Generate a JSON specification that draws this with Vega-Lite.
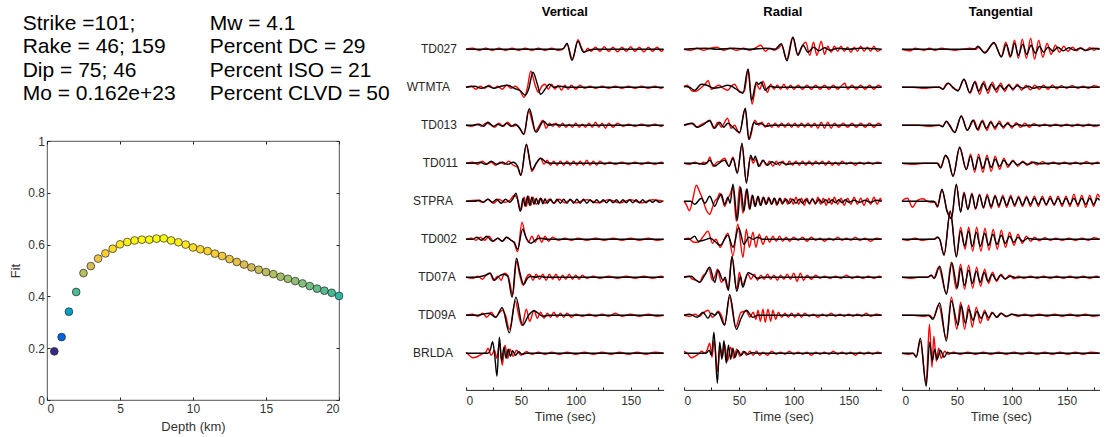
{
"$schema":"https://vega.github.io/schema/vega-lite/v6.json",
"padding":{"left":9,"top":5.5,"right":0,"bottom":0},
"background":"white",
"config":{"font":"Liberation Sans","view":{"stroke":null},"axis":{"grid":false}},
"datasets":{
"txt":[{"c":0,"l":0,"x":"Strike =101;"},{"c":0,"l":1,"x":"Rake = 46; 159"},{"c":0,"l":2,"x":"Dip = 75; 46"},{"c":0,"l":3,"x":"Mo = 0.162e+23"},{"c":1,"l":0,"x":"Mw = 4.1"},{"c":1,"l":1,"x":"Percent DC = 29"},{"c":1,"l":2,"x":"Percent ISO = 21"},{"c":1,"l":3,"x":"Percent CLVD = 50"}],
"fit":[{"d":0.5,"f":0.188},{"d":1,"f":0.243},{"d":1.5,"f":0.341},{"d":2,"f":0.417},{"d":2.5,"f":0.49},{"d":3,"f":0.517},{"d":3.5,"f":0.546},{"d":4,"f":0.566},{"d":4.5,"f":0.584},{"d":5,"f":0.601},{"d":5.5,"f":0.61},{"d":6,"f":0.616},{"d":6.5,"f":0.619},{"d":7,"f":0.619},{"d":7.5,"f":0.623},{"d":8,"f":0.624},{"d":8.5,"f":0.616},{"d":9,"f":0.609},{"d":9.5,"f":0.6},{"d":10,"f":0.589},{"d":10.5,"f":0.582},{"d":11,"f":0.575},{"d":11.5,"f":0.565},{"d":12,"f":0.556},{"d":12.5,"f":0.544},{"d":13,"f":0.533},{"d":13.5,"f":0.523},{"d":14,"f":0.512},{"d":14.5,"f":0.503},{"d":15,"f":0.494},{"d":15.5,"f":0.486},{"d":16,"f":0.476},{"d":16.5,"f":0.468},{"d":17,"f":0.459},{"d":17.5,"f":0.45},{"d":18,"f":0.44},{"d":18.5,"f":0.43},{"d":19,"f":0.422},{"d":19.5,"f":0.414},{"d":20,"f":0.402}],
"w":[
{"p":0,"s":0,"k":0,"t":0,"a":0},{"p":0,"s":0,"k":0,"t":6,"a":1},{"p":0,"s":0,"k":0,"t":12,"a":-1},{"p":0,"s":0,"k":0,"t":18,"a":1},{"p":0,"s":0,"k":0,"t":24,"a":-1},{"p":0,"s":0,"k":0,"t":30,"a":1},{"p":0,"s":0,"k":0,"t":36,"a":-1},{"p":0,"s":0,"k":0,"t":42,"a":1},{"p":0,"s":0,"k":0,"t":48,"a":-1},{"p":0,"s":0,"k":0,"t":54,"a":1},{"p":0,"s":0,"k":0,"t":60,"a":-1},{"p":0,"s":0,"k":0,"t":66,"a":1},{"p":0,"s":0,"k":0,"t":72,"a":-1},{"p":0,"s":0,"k":0,"t":78,"a":1},{"p":0,"s":0,"k":0,"t":84,"a":-1},{"p":0,"s":0,"k":0,"t":88,"a":0},{"p":0,"s":0,"k":0,"t":92,"a":5},{"p":0,"s":0,"k":0,"t":97,"a":-10},{"p":0,"s":0,"k":0,"t":102,"a":9.5},{"p":0,"s":0,"k":0,"t":105,"a":2},{"p":0,"s":0,"k":0,"t":108,"a":-3},{"p":0,"s":0,"k":0,"t":111,"a":1},{"p":0,"s":0,"k":0,"t":114,"a":-2},{"p":0,"s":0,"k":0,"t":118,"a":2},{"p":0,"s":0,"k":0,"t":122,"a":-2},{"p":0,"s":0,"k":0,"t":126,"a":2.5},{"p":0,"s":0,"k":0,"t":130,"a":-2},{"p":0,"s":0,"k":0,"t":134,"a":2},{"p":0,"s":0,"k":0,"t":138,"a":-2.5},{"p":0,"s":0,"k":0,"t":142,"a":2},{"p":0,"s":0,"k":0,"t":146,"a":-2},{"p":0,"s":0,"k":0,"t":150,"a":2.5},{"p":0,"s":0,"k":0,"t":154,"a":-2},{"p":0,"s":0,"k":0,"t":158,"a":2},{"p":0,"s":0,"k":0,"t":162,"a":-2.5},{"p":0,"s":0,"k":0,"t":166,"a":2},{"p":0,"s":0,"k":0,"t":170,"a":-2},{"p":0,"s":0,"k":0,"t":174,"a":2},{"p":0,"s":0,"k":0,"t":178,"a":-2},{"p":0,"s":0,"k":0,"t":180,"a":0},
{"p":0,"s":0,"k":1,"t":0,"a":0},{"p":0,"s":0,"k":1,"t":85,"a":0},{"p":0,"s":0,"k":1,"t":89,"a":1},{"p":0,"s":0,"k":1,"t":92,"a":6},{"p":0,"s":0,"k":1,"t":96.5,"a":-11},{"p":0,"s":0,"k":1,"t":102,"a":8},{"p":0,"s":0,"k":1,"t":107,"a":-3},{"p":0,"s":0,"k":1,"t":112,"a":-1},{"p":0,"s":0,"k":1,"t":116,"a":0},{"p":0,"s":0,"k":1,"t":180,"a":0},
{"p":0,"s":1,"k":0,"t":0,"a":0},{"p":0,"s":1,"k":0,"t":5,"a":1},{"p":0,"s":1,"k":0,"t":9,"a":-2},{"p":0,"s":1,"k":0,"t":13,"a":1},{"p":0,"s":1,"k":0,"t":17,"a":-1},{"p":0,"s":1,"k":0,"t":21,"a":2},{"p":0,"s":1,"k":0,"t":25,"a":-1},{"p":0,"s":1,"k":0,"t":29,"a":1},{"p":0,"s":1,"k":0,"t":33,"a":-2},{"p":0,"s":1,"k":0,"t":37,"a":2},{"p":0,"s":1,"k":0,"t":41,"a":-1},{"p":0,"s":1,"k":0,"t":45,"a":1},{"p":0,"s":1,"k":0,"t":49,"a":-3},{"p":0,"s":1,"k":0,"t":53,"a":-10},{"p":0,"s":1,"k":0,"t":56,"a":0},{"p":0,"s":1,"k":0,"t":59,"a":16},{"p":0,"s":1,"k":0,"t":63,"a":2},{"p":0,"s":1,"k":0,"t":66,"a":-5},{"p":0,"s":1,"k":0,"t":69,"a":1},{"p":0,"s":1,"k":0,"t":72,"a":3},{"p":0,"s":1,"k":0,"t":75,"a":-2},{"p":0,"s":1,"k":0,"t":78,"a":3},{"p":0,"s":1,"k":0,"t":81,"a":-2},{"p":0,"s":1,"k":0,"t":84,"a":2},{"p":0,"s":1,"k":0,"t":87,"a":-3},{"p":0,"s":1,"k":0,"t":90,"a":2},{"p":0,"s":1,"k":0,"t":93,"a":-2},{"p":0,"s":1,"k":0,"t":96,"a":2},{"p":0,"s":1,"k":0,"t":100,"a":-2},{"p":0,"s":1,"k":0,"t":104,"a":2},{"p":0,"s":1,"k":0,"t":108,"a":-1},{"p":0,"s":1,"k":0,"t":113,"a":1},{"p":0,"s":1,"k":0,"t":118,"a":-1},{"p":0,"s":1,"k":0,"t":124,"a":1},{"p":0,"s":1,"k":0,"t":130,"a":-1},{"p":0,"s":1,"k":0,"t":136,"a":1},{"p":0,"s":1,"k":0,"t":142,"a":-1},{"p":0,"s":1,"k":0,"t":148,"a":1},{"p":0,"s":1,"k":0,"t":154,"a":-1},{"p":0,"s":1,"k":0,"t":160,"a":1},{"p":0,"s":1,"k":0,"t":166,"a":-1},{"p":0,"s":1,"k":0,"t":172,"a":1},{"p":0,"s":1,"k":0,"t":178,"a":-1},{"p":0,"s":1,"k":0,"t":180,"a":0},
{"p":0,"s":1,"k":1,"t":0,"a":0},{"p":0,"s":1,"k":1,"t":8,"a":1},{"p":0,"s":1,"k":1,"t":14,"a":-1},{"p":0,"s":1,"k":1,"t":20,"a":1},{"p":0,"s":1,"k":1,"t":26,"a":-1},{"p":0,"s":1,"k":1,"t":32,"a":1},{"p":0,"s":1,"k":1,"t":38,"a":2},{"p":0,"s":1,"k":1,"t":44,"a":-1},{"p":0,"s":1,"k":1,"t":50,"a":-4},{"p":0,"s":1,"k":1,"t":54,"a":-8},{"p":0,"s":1,"k":1,"t":57,"a":-2},{"p":0,"s":1,"k":1,"t":61,"a":15},{"p":0,"s":1,"k":1,"t":65,"a":3},{"p":0,"s":1,"k":1,"t":68,"a":-7},{"p":0,"s":1,"k":1,"t":72,"a":-2},{"p":0,"s":1,"k":1,"t":76,"a":3},{"p":0,"s":1,"k":1,"t":80,"a":0},{"p":0,"s":1,"k":1,"t":86,"a":1},{"p":0,"s":1,"k":1,"t":92,"a":0},{"p":0,"s":1,"k":1,"t":180,"a":0},
{"p":0,"s":2,"k":0,"t":0,"a":0},{"p":0,"s":2,"k":0,"t":5,"a":-1},{"p":0,"s":2,"k":0,"t":10,"a":1},{"p":0,"s":2,"k":0,"t":14,"a":-1},{"p":0,"s":2,"k":0,"t":18,"a":2},{"p":0,"s":2,"k":0,"t":22,"a":1},{"p":0,"s":2,"k":0,"t":26,"a":-2},{"p":0,"s":2,"k":0,"t":30,"a":2},{"p":0,"s":2,"k":0,"t":34,"a":-1},{"p":0,"s":2,"k":0,"t":38,"a":3},{"p":0,"s":2,"k":0,"t":42,"a":-1},{"p":0,"s":2,"k":0,"t":46,"a":0},{"p":0,"s":2,"k":0,"t":50,"a":-5},{"p":0,"s":2,"k":0,"t":53,"a":-9},{"p":0,"s":2,"k":0,"t":57,"a":15},{"p":0,"s":2,"k":0,"t":60,"a":5},{"p":0,"s":2,"k":0,"t":63,"a":-6},{"p":0,"s":2,"k":0,"t":67,"a":0},{"p":0,"s":2,"k":0,"t":70,"a":5},{"p":0,"s":2,"k":0,"t":73,"a":-3},{"p":0,"s":2,"k":0,"t":76,"a":2},{"p":0,"s":2,"k":0,"t":79,"a":-1},{"p":0,"s":2,"k":0,"t":82,"a":2},{"p":0,"s":2,"k":0,"t":85,"a":-2},{"p":0,"s":2,"k":0,"t":88,"a":2},{"p":0,"s":2,"k":0,"t":91,"a":-2},{"p":0,"s":2,"k":0,"t":94,"a":1},{"p":0,"s":2,"k":0,"t":97,"a":-2},{"p":0,"s":2,"k":0,"t":100,"a":2},{"p":0,"s":2,"k":0,"t":103,"a":-2},{"p":0,"s":2,"k":0,"t":106,"a":1},{"p":0,"s":2,"k":0,"t":109,"a":-2},{"p":0,"s":2,"k":0,"t":112,"a":2},{"p":0,"s":2,"k":0,"t":115,"a":-2},{"p":0,"s":2,"k":0,"t":118,"a":3},{"p":0,"s":2,"k":0,"t":121,"a":-2},{"p":0,"s":2,"k":0,"t":124,"a":2},{"p":0,"s":2,"k":0,"t":127,"a":-3},{"p":0,"s":2,"k":0,"t":130,"a":2},{"p":0,"s":2,"k":0,"t":134,"a":-2},{"p":0,"s":2,"k":0,"t":138,"a":2},{"p":0,"s":2,"k":0,"t":143,"a":-1},{"p":0,"s":2,"k":0,"t":148,"a":1},{"p":0,"s":2,"k":0,"t":154,"a":-1},{"p":0,"s":2,"k":0,"t":160,"a":1},{"p":0,"s":2,"k":0,"t":166,"a":-1},{"p":0,"s":2,"k":0,"t":172,"a":1},{"p":0,"s":2,"k":0,"t":178,"a":-1},{"p":0,"s":2,"k":0,"t":180,"a":0},
{"p":0,"s":2,"k":1,"t":0,"a":0},{"p":0,"s":2,"k":1,"t":6,"a":0},{"p":0,"s":2,"k":1,"t":12,"a":1},{"p":0,"s":2,"k":1,"t":16,"a":-1},{"p":0,"s":2,"k":1,"t":20,"a":3},{"p":0,"s":2,"k":1,"t":25,"a":-1},{"p":0,"s":2,"k":1,"t":29,"a":1},{"p":0,"s":2,"k":1,"t":33,"a":-1},{"p":0,"s":2,"k":1,"t":37,"a":2},{"p":0,"s":2,"k":1,"t":41,"a":-1},{"p":0,"s":2,"k":1,"t":45,"a":1},{"p":0,"s":2,"k":1,"t":49,"a":-3},{"p":0,"s":2,"k":1,"t":52.5,"a":-9},{"p":0,"s":2,"k":1,"t":57.7,"a":16.5},{"p":0,"s":2,"k":1,"t":63.8,"a":-7},{"p":0,"s":2,"k":1,"t":70.7,"a":4},{"p":0,"s":2,"k":1,"t":75,"a":0},{"p":0,"s":2,"k":1,"t":80,"a":1},{"p":0,"s":2,"k":1,"t":86,"a":0},{"p":0,"s":2,"k":1,"t":180,"a":0},
{"p":0,"s":3,"k":0,"t":0,"a":0},{"p":0,"s":3,"k":0,"t":6,"a":1},{"p":0,"s":3,"k":0,"t":11,"a":-1},{"p":0,"s":3,"k":0,"t":15,"a":2},{"p":0,"s":3,"k":0,"t":19,"a":-1},{"p":0,"s":3,"k":0,"t":23,"a":1},{"p":0,"s":3,"k":0,"t":27,"a":-2},{"p":0,"s":3,"k":0,"t":31,"a":1},{"p":0,"s":3,"k":0,"t":35,"a":-1},{"p":0,"s":3,"k":0,"t":39,"a":2},{"p":0,"s":3,"k":0,"t":43,"a":-2},{"p":0,"s":3,"k":0,"t":47,"a":-4},{"p":0,"s":3,"k":0,"t":50,"a":-12},{"p":0,"s":3,"k":0,"t":55,"a":18},{"p":0,"s":3,"k":0,"t":58,"a":2},{"p":0,"s":3,"k":0,"t":60,"a":-8},{"p":0,"s":3,"k":0,"t":64,"a":0},{"p":0,"s":3,"k":0,"t":68,"a":5},{"p":0,"s":3,"k":0,"t":71,"a":-1},{"p":0,"s":3,"k":0,"t":74,"a":3},{"p":0,"s":3,"k":0,"t":77,"a":-2},{"p":0,"s":3,"k":0,"t":80,"a":2},{"p":0,"s":3,"k":0,"t":83,"a":-2},{"p":0,"s":3,"k":0,"t":86,"a":2},{"p":0,"s":3,"k":0,"t":89,"a":-2},{"p":0,"s":3,"k":0,"t":92,"a":2},{"p":0,"s":3,"k":0,"t":95,"a":-2},{"p":0,"s":3,"k":0,"t":98,"a":2},{"p":0,"s":3,"k":0,"t":101,"a":-2},{"p":0,"s":3,"k":0,"t":104,"a":2},{"p":0,"s":3,"k":0,"t":107,"a":-2},{"p":0,"s":3,"k":0,"t":110,"a":3},{"p":0,"s":3,"k":0,"t":113,"a":-2},{"p":0,"s":3,"k":0,"t":116,"a":2},{"p":0,"s":3,"k":0,"t":119,"a":-2},{"p":0,"s":3,"k":0,"t":122,"a":2},{"p":0,"s":3,"k":0,"t":126,"a":-1},{"p":0,"s":3,"k":0,"t":131,"a":1},{"p":0,"s":3,"k":0,"t":136,"a":-1},{"p":0,"s":3,"k":0,"t":142,"a":1},{"p":0,"s":3,"k":0,"t":148,"a":-1},{"p":0,"s":3,"k":0,"t":154,"a":1},{"p":0,"s":3,"k":0,"t":160,"a":-1},{"p":0,"s":3,"k":0,"t":166,"a":1},{"p":0,"s":3,"k":0,"t":172,"a":-1},{"p":0,"s":3,"k":0,"t":178,"a":1},{"p":0,"s":3,"k":0,"t":180,"a":0},
{"p":0,"s":3,"k":1,"t":0,"a":0},{"p":0,"s":3,"k":1,"t":8,"a":0},{"p":0,"s":3,"k":1,"t":13,"a":1},{"p":0,"s":3,"k":1,"t":18,"a":-1},{"p":0,"s":3,"k":1,"t":23,"a":2},{"p":0,"s":3,"k":1,"t":28,"a":-1},{"p":0,"s":3,"k":1,"t":33,"a":1},{"p":0,"s":3,"k":1,"t":38,"a":-1},{"p":0,"s":3,"k":1,"t":43,"a":1},{"p":0,"s":3,"k":1,"t":47,"a":-3},{"p":0,"s":3,"k":1,"t":50,"a":-12},{"p":0,"s":3,"k":1,"t":55,"a":19},{"p":0,"s":3,"k":1,"t":60,"a":-6.5},{"p":0,"s":3,"k":1,"t":64,"a":0},{"p":0,"s":3,"k":1,"t":68,"a":5},{"p":0,"s":3,"k":1,"t":73,"a":1},{"p":0,"s":3,"k":1,"t":78,"a":0},{"p":0,"s":3,"k":1,"t":180,"a":0},
{"p":0,"s":4,"k":0,"t":0,"a":0},{"p":0,"s":4,"k":0,"t":10,"a":1},{"p":0,"s":4,"k":0,"t":15,"a":-1},{"p":0,"s":4,"k":0,"t":20,"a":2},{"p":0,"s":4,"k":0,"t":25,"a":-2},{"p":0,"s":4,"k":0,"t":30,"a":2},{"p":0,"s":4,"k":0,"t":35,"a":-1},{"p":0,"s":4,"k":0,"t":40,"a":1},{"p":0,"s":4,"k":0,"t":44,"a":6},{"p":0,"s":4,"k":0,"t":47,"a":2},{"p":0,"s":4,"k":0,"t":50,"a":-9},{"p":0,"s":4,"k":0,"t":53,"a":4},{"p":0,"s":4,"k":0,"t":55,"a":-5},{"p":0,"s":4,"k":0,"t":57,"a":5},{"p":0,"s":4,"k":0,"t":59,"a":-4},{"p":0,"s":4,"k":0,"t":61,"a":4},{"p":0,"s":4,"k":0,"t":64,"a":-3},{"p":0,"s":4,"k":0,"t":68,"a":3},{"p":0,"s":4,"k":0,"t":72,"a":-2},{"p":0,"s":4,"k":0,"t":76,"a":2},{"p":0,"s":4,"k":0,"t":80,"a":-2},{"p":0,"s":4,"k":0,"t":85,"a":2},{"p":0,"s":4,"k":0,"t":90,"a":-1.5},{"p":0,"s":4,"k":0,"t":95,"a":1.5},{"p":0,"s":4,"k":0,"t":100,"a":-1.5},{"p":0,"s":4,"k":0,"t":110,"a":1.5},{"p":0,"s":4,"k":0,"t":120,"a":-1.5},{"p":0,"s":4,"k":0,"t":130,"a":1.5},{"p":0,"s":4,"k":0,"t":140,"a":-1.5},{"p":0,"s":4,"k":0,"t":150,"a":1.5},{"p":0,"s":4,"k":0,"t":160,"a":-1.5},{"p":0,"s":4,"k":0,"t":170,"a":1.5},{"p":0,"s":4,"k":0,"t":180,"a":0},
{"p":0,"s":4,"k":1,"t":0,"a":0},{"p":0,"s":4,"k":1,"t":8,"a":0},{"p":0,"s":4,"k":1,"t":12,"a":1},{"p":0,"s":4,"k":1,"t":16,"a":-1},{"p":0,"s":4,"k":1,"t":20,"a":2},{"p":0,"s":4,"k":1,"t":24,"a":-1},{"p":0,"s":4,"k":1,"t":28,"a":2},{"p":0,"s":4,"k":1,"t":32,"a":-2},{"p":0,"s":4,"k":1,"t":36,"a":2},{"p":0,"s":4,"k":1,"t":40,"a":-1},{"p":0,"s":4,"k":1,"t":43,"a":3},{"p":0,"s":4,"k":1,"t":45.5,"a":8},{"p":0,"s":4,"k":1,"t":49.5,"a":-10},{"p":0,"s":4,"k":1,"t":52,"a":3},{"p":0,"s":4,"k":1,"t":54,"a":-5},{"p":0,"s":4,"k":1,"t":56,"a":5},{"p":0,"s":4,"k":1,"t":58,"a":-4},{"p":0,"s":4,"k":1,"t":60,"a":4},{"p":0,"s":4,"k":1,"t":62,"a":-3},{"p":0,"s":4,"k":1,"t":64,"a":3},{"p":0,"s":4,"k":1,"t":66,"a":-3},{"p":0,"s":4,"k":1,"t":68,"a":3},{"p":0,"s":4,"k":1,"t":70,"a":-2.5},{"p":0,"s":4,"k":1,"t":72,"a":2.5},{"p":0,"s":4,"k":1,"t":74,"a":-2},{"p":0,"s":4,"k":1,"t":77,"a":2},{"p":0,"s":4,"k":1,"t":80,"a":-2},{"p":0,"s":4,"k":1,"t":83,"a":2},{"p":0,"s":4,"k":1,"t":86,"a":-2},{"p":0,"s":4,"k":1,"t":89,"a":2},{"p":0,"s":4,"k":1,"t":92,"a":-2},{"p":0,"s":4,"k":1,"t":95,"a":2},{"p":0,"s":4,"k":1,"t":98,"a":-2},{"p":0,"s":4,"k":1,"t":101,"a":2},{"p":0,"s":4,"k":1,"t":104,"a":-2},{"p":0,"s":4,"k":1,"t":107,"a":2},{"p":0,"s":4,"k":1,"t":110,"a":-2},{"p":0,"s":4,"k":1,"t":113,"a":1.5},{"p":0,"s":4,"k":1,"t":116,"a":-1.5},{"p":0,"s":4,"k":1,"t":119,"a":1.5},{"p":0,"s":4,"k":1,"t":122,"a":-1.5},{"p":0,"s":4,"k":1,"t":125,"a":1.5},{"p":0,"s":4,"k":1,"t":128,"a":-1.5},{"p":0,"s":4,"k":1,"t":131,"a":1.5},{"p":0,"s":4,"k":1,"t":134,"a":-1.5},{"p":0,"s":4,"k":1,"t":137,"a":1.5},{"p":0,"s":4,"k":1,"t":140,"a":-1.5},{"p":0,"s":4,"k":1,"t":143,"a":1.5},{"p":0,"s":4,"k":1,"t":146,"a":-1.5},{"p":0,"s":4,"k":1,"t":149,"a":1.5},{"p":0,"s":4,"k":1,"t":152,"a":-1.5},{"p":0,"s":4,"k":1,"t":155,"a":1.5},{"p":0,"s":4,"k":1,"t":158,"a":-1.5},{"p":0,"s":4,"k":1,"t":161,"a":1.5},{"p":0,"s":4,"k":1,"t":164,"a":-1.5},{"p":0,"s":4,"k":1,"t":167,"a":1},{"p":0,"s":4,"k":1,"t":170,"a":-1},{"p":0,"s":4,"k":1,"t":173,"a":1},{"p":0,"s":4,"k":1,"t":176,"a":-1},{"p":0,"s":4,"k":1,"t":179,"a":0},
{"p":0,"s":5,"k":0,"t":0,"a":0},{"p":0,"s":5,"k":0,"t":5,"a":1},{"p":0,"s":5,"k":0,"t":9,"a":-1},{"p":0,"s":5,"k":0,"t":13,"a":2},{"p":0,"s":5,"k":0,"t":17,"a":-1},{"p":0,"s":5,"k":0,"t":21,"a":3},{"p":0,"s":5,"k":0,"t":25,"a":-2},{"p":0,"s":5,"k":0,"t":29,"a":1},{"p":0,"s":5,"k":0,"t":33,"a":-2},{"p":0,"s":5,"k":0,"t":37,"a":2},{"p":0,"s":5,"k":0,"t":41,"a":-1},{"p":0,"s":5,"k":0,"t":44,"a":-4},{"p":0,"s":5,"k":0,"t":47,"a":-12.5},{"p":0,"s":5,"k":0,"t":51,"a":17},{"p":0,"s":5,"k":0,"t":54,"a":4},{"p":0,"s":5,"k":0,"t":57,"a":-3},{"p":0,"s":5,"k":0,"t":60,"a":3},{"p":0,"s":5,"k":0,"t":63,"a":-3},{"p":0,"s":5,"k":0,"t":66,"a":4},{"p":0,"s":5,"k":0,"t":69,"a":-3},{"p":0,"s":5,"k":0,"t":72,"a":3},{"p":0,"s":5,"k":0,"t":75,"a":-2},{"p":0,"s":5,"k":0,"t":79,"a":2},{"p":0,"s":5,"k":0,"t":84,"a":-1},{"p":0,"s":5,"k":0,"t":90,"a":1},{"p":0,"s":5,"k":0,"t":96,"a":-1},{"p":0,"s":5,"k":0,"t":102,"a":1},{"p":0,"s":5,"k":0,"t":110,"a":-1},{"p":0,"s":5,"k":0,"t":118,"a":1},{"p":0,"s":5,"k":0,"t":126,"a":-1},{"p":0,"s":5,"k":0,"t":134,"a":1},{"p":0,"s":5,"k":0,"t":142,"a":-1},{"p":0,"s":5,"k":0,"t":150,"a":1},{"p":0,"s":5,"k":0,"t":158,"a":-1},{"p":0,"s":5,"k":0,"t":166,"a":1},{"p":0,"s":5,"k":0,"t":174,"a":-1},{"p":0,"s":5,"k":0,"t":180,"a":0},
{"p":0,"s":5,"k":1,"t":0,"a":0},{"p":0,"s":5,"k":1,"t":6,"a":0},{"p":0,"s":5,"k":1,"t":10,"a":2},{"p":0,"s":5,"k":1,"t":14,"a":-1},{"p":0,"s":5,"k":1,"t":19,"a":3},{"p":0,"s":5,"k":1,"t":24,"a":-2},{"p":0,"s":5,"k":1,"t":29,"a":1},{"p":0,"s":5,"k":1,"t":33,"a":-2},{"p":0,"s":5,"k":1,"t":37,"a":2},{"p":0,"s":5,"k":1,"t":41,"a":-1},{"p":0,"s":5,"k":1,"t":44,"a":-3},{"p":0,"s":5,"k":1,"t":47,"a":-10},{"p":0,"s":5,"k":1,"t":51.5,"a":10},{"p":0,"s":5,"k":1,"t":55,"a":1},{"p":0,"s":5,"k":1,"t":59,"a":-4},{"p":0,"s":5,"k":1,"t":64,"a":0},{"p":0,"s":5,"k":1,"t":68,"a":1},{"p":0,"s":5,"k":1,"t":74,"a":0},{"p":0,"s":5,"k":1,"t":180,"a":0},
{"p":0,"s":6,"k":0,"t":0,"a":0},{"p":0,"s":6,"k":0,"t":6,"a":-1},{"p":0,"s":6,"k":0,"t":11,"a":1},{"p":0,"s":6,"k":0,"t":15,"a":-2},{"p":0,"s":6,"k":0,"t":19,"a":3},{"p":0,"s":6,"k":0,"t":22,"a":4},{"p":0,"s":6,"k":0,"t":25,"a":-3},{"p":0,"s":6,"k":0,"t":29,"a":1},{"p":0,"s":6,"k":0,"t":32,"a":-3},{"p":0,"s":6,"k":0,"t":35,"a":4},{"p":0,"s":6,"k":0,"t":38,"a":2},{"p":0,"s":6,"k":0,"t":40,"a":-6},{"p":0,"s":6,"k":0,"t":42.5,"a":-18},{"p":0,"s":6,"k":0,"t":46,"a":16},{"p":0,"s":6,"k":0,"t":49,"a":2},{"p":0,"s":6,"k":0,"t":52,"a":-8},{"p":0,"s":6,"k":0,"t":55,"a":0},{"p":0,"s":6,"k":0,"t":58,"a":3},{"p":0,"s":6,"k":0,"t":61,"a":-3},{"p":0,"s":6,"k":0,"t":64,"a":3},{"p":0,"s":6,"k":0,"t":67,"a":-2},{"p":0,"s":6,"k":0,"t":70,"a":3},{"p":0,"s":6,"k":0,"t":73,"a":-3},{"p":0,"s":6,"k":0,"t":76,"a":3},{"p":0,"s":6,"k":0,"t":79,"a":-2},{"p":0,"s":6,"k":0,"t":82,"a":3},{"p":0,"s":6,"k":0,"t":85,"a":-3},{"p":0,"s":6,"k":0,"t":88,"a":2},{"p":0,"s":6,"k":0,"t":91,"a":-2},{"p":0,"s":6,"k":0,"t":94,"a":3},{"p":0,"s":6,"k":0,"t":97,"a":-2},{"p":0,"s":6,"k":0,"t":100,"a":2},{"p":0,"s":6,"k":0,"t":103,"a":-2},{"p":0,"s":6,"k":0,"t":106,"a":2},{"p":0,"s":6,"k":0,"t":110,"a":-1},{"p":0,"s":6,"k":0,"t":116,"a":1},{"p":0,"s":6,"k":0,"t":122,"a":-1},{"p":0,"s":6,"k":0,"t":130,"a":1},{"p":0,"s":6,"k":0,"t":138,"a":-1},{"p":0,"s":6,"k":0,"t":146,"a":1},{"p":0,"s":6,"k":0,"t":154,"a":-1},{"p":0,"s":6,"k":0,"t":162,"a":1},{"p":0,"s":6,"k":0,"t":170,"a":-1},{"p":0,"s":6,"k":0,"t":178,"a":1},{"p":0,"s":6,"k":0,"t":180,"a":0},
{"p":0,"s":6,"k":1,"t":0,"a":0},{"p":0,"s":6,"k":1,"t":10,"a":0},{"p":0,"s":6,"k":1,"t":14,"a":1},{"p":0,"s":6,"k":1,"t":18,"a":2},{"p":0,"s":6,"k":1,"t":22,"a":4},{"p":0,"s":6,"k":1,"t":26,"a":-3},{"p":0,"s":6,"k":1,"t":30,"a":1},{"p":0,"s":6,"k":1,"t":34,"a":3},{"p":0,"s":6,"k":1,"t":38,"a":1},{"p":0,"s":6,"k":1,"t":42,"a":-20},{"p":0,"s":6,"k":1,"t":46,"a":19},{"p":0,"s":6,"k":1,"t":49,"a":5},{"p":0,"s":6,"k":1,"t":52.5,"a":-7},{"p":0,"s":6,"k":1,"t":56,"a":-1},{"p":0,"s":6,"k":1,"t":59,"a":1},{"p":0,"s":6,"k":1,"t":63,"a":0},{"p":0,"s":6,"k":1,"t":67,"a":1},{"p":0,"s":6,"k":1,"t":72,"a":0},{"p":0,"s":6,"k":1,"t":180,"a":0},
{"p":0,"s":7,"k":0,"t":0,"a":0},{"p":0,"s":7,"k":0,"t":6,"a":1},{"p":0,"s":7,"k":0,"t":11,"a":-1},{"p":0,"s":7,"k":0,"t":15,"a":2},{"p":0,"s":7,"k":0,"t":19,"a":-2},{"p":0,"s":7,"k":0,"t":23,"a":3},{"p":0,"s":7,"k":0,"t":27,"a":-2},{"p":0,"s":7,"k":0,"t":30,"a":2},{"p":0,"s":7,"k":0,"t":33,"a":5},{"p":0,"s":7,"k":0,"t":36,"a":0},{"p":0,"s":7,"k":0,"t":39.5,"a":-14},{"p":0,"s":7,"k":0,"t":45,"a":14},{"p":0,"s":7,"k":0,"t":48,"a":0},{"p":0,"s":7,"k":0,"t":51,"a":-10},{"p":0,"s":7,"k":0,"t":55,"a":6},{"p":0,"s":7,"k":0,"t":58,"a":-6},{"p":0,"s":7,"k":0,"t":62,"a":5},{"p":0,"s":7,"k":0,"t":65,"a":-3},{"p":0,"s":7,"k":0,"t":68,"a":3},{"p":0,"s":7,"k":0,"t":71,"a":-3},{"p":0,"s":7,"k":0,"t":74,"a":2},{"p":0,"s":7,"k":0,"t":77,"a":-2},{"p":0,"s":7,"k":0,"t":80,"a":3},{"p":0,"s":7,"k":0,"t":83,"a":-2},{"p":0,"s":7,"k":0,"t":86,"a":2},{"p":0,"s":7,"k":0,"t":89,"a":-2},{"p":0,"s":7,"k":0,"t":92,"a":2},{"p":0,"s":7,"k":0,"t":96,"a":-2},{"p":0,"s":7,"k":0,"t":100,"a":1},{"p":0,"s":7,"k":0,"t":106,"a":-1},{"p":0,"s":7,"k":0,"t":112,"a":1},{"p":0,"s":7,"k":0,"t":118,"a":-1},{"p":0,"s":7,"k":0,"t":124,"a":1},{"p":0,"s":7,"k":0,"t":130,"a":-1},{"p":0,"s":7,"k":0,"t":136,"a":2},{"p":0,"s":7,"k":0,"t":142,"a":-1},{"p":0,"s":7,"k":0,"t":150,"a":1},{"p":0,"s":7,"k":0,"t":158,"a":-1},{"p":0,"s":7,"k":0,"t":166,"a":1},{"p":0,"s":7,"k":0,"t":174,"a":-1},{"p":0,"s":7,"k":0,"t":180,"a":0},
{"p":0,"s":7,"k":1,"t":0,"a":0},{"p":0,"s":7,"k":1,"t":10,"a":0},{"p":0,"s":7,"k":1,"t":15,"a":1},{"p":0,"s":7,"k":1,"t":21,"a":2},{"p":0,"s":7,"k":1,"t":27,"a":-2},{"p":0,"s":7,"k":1,"t":33,"a":7.5},{"p":0,"s":7,"k":1,"t":39.5,"a":-17.5},{"p":0,"s":7,"k":1,"t":45.5,"a":18},{"p":0,"s":7,"k":1,"t":51.6,"a":-10},{"p":0,"s":7,"k":1,"t":57,"a":0},{"p":0,"s":7,"k":1,"t":62,"a":4.5},{"p":0,"s":7,"k":1,"t":70,"a":-1},{"p":0,"s":7,"k":1,"t":76,"a":0},{"p":0,"s":7,"k":1,"t":180,"a":0},
{"p":0,"s":8,"k":0,"t":0,"a":1},{"p":0,"s":8,"k":0,"t":3,"a":-2},{"p":0,"s":8,"k":0,"t":6,"a":-4.5},{"p":0,"s":8,"k":0,"t":10,"a":-3.5},{"p":0,"s":8,"k":0,"t":14,"a":-1},{"p":0,"s":8,"k":0,"t":18,"a":1},{"p":0,"s":8,"k":0,"t":20,"a":5},{"p":0,"s":8,"k":0,"t":23,"a":-2},{"p":0,"s":8,"k":0,"t":26,"a":3},{"p":0,"s":8,"k":0,"t":28,"a":-5},{"p":0,"s":8,"k":0,"t":30.5,"a":10},{"p":0,"s":8,"k":0,"t":33,"a":-12},{"p":0,"s":8,"k":0,"t":35.5,"a":8},{"p":0,"s":8,"k":0,"t":38,"a":-5},{"p":0,"s":8,"k":0,"t":40,"a":4},{"p":0,"s":8,"k":0,"t":43,"a":-3},{"p":0,"s":8,"k":0,"t":46,"a":3},{"p":0,"s":8,"k":0,"t":50,"a":-2},{"p":0,"s":8,"k":0,"t":55,"a":1.5},{"p":0,"s":8,"k":0,"t":60,"a":-1},{"p":0,"s":8,"k":0,"t":66,"a":1},{"p":0,"s":8,"k":0,"t":72,"a":-1},{"p":0,"s":8,"k":0,"t":78,"a":1},{"p":0,"s":8,"k":0,"t":85,"a":-1},{"p":0,"s":8,"k":0,"t":92,"a":1},{"p":0,"s":8,"k":0,"t":100,"a":-1},{"p":0,"s":8,"k":0,"t":108,"a":1},{"p":0,"s":8,"k":0,"t":116,"a":-1},{"p":0,"s":8,"k":0,"t":124,"a":1},{"p":0,"s":8,"k":0,"t":132,"a":-1},{"p":0,"s":8,"k":0,"t":140,"a":1},{"p":0,"s":8,"k":0,"t":148,"a":-1},{"p":0,"s":8,"k":0,"t":156,"a":1},{"p":0,"s":8,"k":0,"t":164,"a":-1},{"p":0,"s":8,"k":0,"t":172,"a":1},{"p":0,"s":8,"k":0,"t":180,"a":0},
{"p":0,"s":8,"k":1,"t":0,"a":0},{"p":0,"s":8,"k":1,"t":20,"a":0},{"p":0,"s":8,"k":1,"t":22,"a":3},{"p":0,"s":8,"k":1,"t":24.3,"a":11.5},{"p":0,"s":8,"k":1,"t":26.4,"a":-5},{"p":0,"s":8,"k":1,"t":28.2,"a":-23},{"p":0,"s":8,"k":1,"t":30.4,"a":16},{"p":0,"s":8,"k":1,"t":32.5,"a":-8},{"p":0,"s":8,"k":1,"t":34.5,"a":6},{"p":0,"s":8,"k":1,"t":36.5,"a":-5},{"p":0,"s":8,"k":1,"t":38.5,"a":4},{"p":0,"s":8,"k":1,"t":40.5,"a":-3},{"p":0,"s":8,"k":1,"t":42.5,"a":2.5},{"p":0,"s":8,"k":1,"t":45,"a":-2},{"p":0,"s":8,"k":1,"t":48,"a":1.5},{"p":0,"s":8,"k":1,"t":51,"a":-1},{"p":0,"s":8,"k":1,"t":55,"a":0},{"p":0,"s":8,"k":1,"t":180,"a":0},
{"p":1,"s":0,"k":0,"t":0,"a":0},{"p":1,"s":0,"k":0,"t":6,"a":-1},{"p":1,"s":0,"k":0,"t":12,"a":1},{"p":1,"s":0,"k":0,"t":18,"a":-1},{"p":1,"s":0,"k":0,"t":24,"a":1},{"p":1,"s":0,"k":0,"t":30,"a":2},{"p":1,"s":0,"k":0,"t":36,"a":-1},{"p":1,"s":0,"k":0,"t":42,"a":1},{"p":1,"s":0,"k":0,"t":48,"a":-1},{"p":1,"s":0,"k":0,"t":54,"a":1},{"p":1,"s":0,"k":0,"t":60,"a":-1},{"p":1,"s":0,"k":0,"t":66,"a":2},{"p":1,"s":0,"k":0,"t":70,"a":4},{"p":1,"s":0,"k":0,"t":74,"a":-2},{"p":1,"s":0,"k":0,"t":78,"a":1},{"p":1,"s":0,"k":0,"t":82,"a":-1},{"p":1,"s":0,"k":0,"t":86,"a":1},{"p":1,"s":0,"k":0,"t":89,"a":4},{"p":1,"s":0,"k":0,"t":93.5,"a":-10},{"p":1,"s":0,"k":0,"t":99,"a":12},{"p":1,"s":0,"k":0,"t":103.5,"a":-5},{"p":1,"s":0,"k":0,"t":107,"a":2},{"p":1,"s":0,"k":0,"t":111,"a":7},{"p":1,"s":0,"k":0,"t":114.5,"a":-6},{"p":1,"s":0,"k":0,"t":118,"a":7},{"p":1,"s":0,"k":0,"t":121,"a":-6},{"p":1,"s":0,"k":0,"t":125,"a":8},{"p":1,"s":0,"k":0,"t":128,"a":-5},{"p":1,"s":0,"k":0,"t":131,"a":3},{"p":1,"s":0,"k":0,"t":134,"a":-3},{"p":1,"s":0,"k":0,"t":137,"a":3},{"p":1,"s":0,"k":0,"t":140,"a":-2},{"p":1,"s":0,"k":0,"t":143,"a":3},{"p":1,"s":0,"k":0,"t":146,"a":-2},{"p":1,"s":0,"k":0,"t":149,"a":2},{"p":1,"s":0,"k":0,"t":152,"a":-3},{"p":1,"s":0,"k":0,"t":155,"a":2},{"p":1,"s":0,"k":0,"t":158,"a":-2},{"p":1,"s":0,"k":0,"t":161,"a":3},{"p":1,"s":0,"k":0,"t":164,"a":-2},{"p":1,"s":0,"k":0,"t":167,"a":2},{"p":1,"s":0,"k":0,"t":170,"a":-2},{"p":1,"s":0,"k":0,"t":173,"a":3},{"p":1,"s":0,"k":0,"t":176,"a":-2},{"p":1,"s":0,"k":0,"t":180,"a":0},
{"p":1,"s":0,"k":1,"t":0,"a":0},{"p":1,"s":0,"k":1,"t":20,"a":1},{"p":1,"s":0,"k":1,"t":30,"a":0},{"p":1,"s":0,"k":1,"t":45,"a":1},{"p":1,"s":0,"k":1,"t":60,"a":0},{"p":1,"s":0,"k":1,"t":75,"a":1},{"p":1,"s":0,"k":1,"t":83,"a":0},{"p":1,"s":0,"k":1,"t":88.6,"a":5.5},{"p":1,"s":0,"k":1,"t":93.8,"a":-11.5},{"p":1,"s":0,"k":1,"t":99.3,"a":12},{"p":1,"s":0,"k":1,"t":103.8,"a":-6},{"p":1,"s":0,"k":1,"t":108.4,"a":4},{"p":1,"s":0,"k":1,"t":113,"a":-3},{"p":1,"s":0,"k":1,"t":118,"a":2},{"p":1,"s":0,"k":1,"t":123,"a":-1.5},{"p":1,"s":0,"k":1,"t":128,"a":1.5},{"p":1,"s":0,"k":1,"t":133,"a":-1},{"p":1,"s":0,"k":1,"t":140,"a":1},{"p":1,"s":0,"k":1,"t":150,"a":0},{"p":1,"s":0,"k":1,"t":160,"a":1},{"p":1,"s":0,"k":1,"t":180,"a":0},
{"p":1,"s":1,"k":0,"t":0,"a":0},{"p":1,"s":1,"k":0,"t":3,"a":2},{"p":1,"s":1,"k":0,"t":7,"a":-3.5},{"p":1,"s":1,"k":0,"t":11,"a":-4},{"p":1,"s":1,"k":0,"t":15,"a":-1},{"p":1,"s":1,"k":0,"t":19,"a":3},{"p":1,"s":1,"k":0,"t":22,"a":6.5},{"p":1,"s":1,"k":0,"t":25,"a":-2},{"p":1,"s":1,"k":0,"t":28,"a":0},{"p":1,"s":1,"k":0,"t":32,"a":2},{"p":1,"s":1,"k":0,"t":36,"a":-1},{"p":1,"s":1,"k":0,"t":40,"a":-3},{"p":1,"s":1,"k":0,"t":43,"a":1},{"p":1,"s":1,"k":0,"t":46,"a":3},{"p":1,"s":1,"k":0,"t":49,"a":-2},{"p":1,"s":1,"k":0,"t":51,"a":-5},{"p":1,"s":1,"k":0,"t":55,"a":-4},{"p":1,"s":1,"k":0,"t":58.5,"a":18},{"p":1,"s":1,"k":0,"t":62,"a":-17},{"p":1,"s":1,"k":0,"t":66,"a":3},{"p":1,"s":1,"k":0,"t":69,"a":-2},{"p":1,"s":1,"k":0,"t":72,"a":6},{"p":1,"s":1,"k":0,"t":76,"a":-5},{"p":1,"s":1,"k":0,"t":79,"a":3},{"p":1,"s":1,"k":0,"t":82,"a":-2},{"p":1,"s":1,"k":0,"t":85,"a":2},{"p":1,"s":1,"k":0,"t":88,"a":-2},{"p":1,"s":1,"k":0,"t":91,"a":3},{"p":1,"s":1,"k":0,"t":94,"a":-2},{"p":1,"s":1,"k":0,"t":97,"a":2},{"p":1,"s":1,"k":0,"t":100,"a":-2},{"p":1,"s":1,"k":0,"t":104,"a":2},{"p":1,"s":1,"k":0,"t":108,"a":-2},{"p":1,"s":1,"k":0,"t":112,"a":2},{"p":1,"s":1,"k":0,"t":116,"a":-2},{"p":1,"s":1,"k":0,"t":120,"a":2},{"p":1,"s":1,"k":0,"t":124,"a":-2},{"p":1,"s":1,"k":0,"t":128,"a":2},{"p":1,"s":1,"k":0,"t":132,"a":-2},{"p":1,"s":1,"k":0,"t":136,"a":2},{"p":1,"s":1,"k":0,"t":140,"a":-2},{"p":1,"s":1,"k":0,"t":143,"a":1},{"p":1,"s":1,"k":0,"t":146.5,"a":4},{"p":1,"s":1,"k":0,"t":149,"a":-2},{"p":1,"s":1,"k":0,"t":153,"a":2},{"p":1,"s":1,"k":0,"t":157,"a":-2},{"p":1,"s":1,"k":0,"t":161,"a":2},{"p":1,"s":1,"k":0,"t":165,"a":-2},{"p":1,"s":1,"k":0,"t":169,"a":2},{"p":1,"s":1,"k":0,"t":173,"a":-2},{"p":1,"s":1,"k":0,"t":177,"a":2},{"p":1,"s":1,"k":0,"t":180,"a":0},
{"p":1,"s":1,"k":1,"t":0,"a":1},{"p":1,"s":1,"k":1,"t":5,"a":0},{"p":1,"s":1,"k":1,"t":9.7,"a":-3},{"p":1,"s":1,"k":1,"t":15.8,"a":3},{"p":1,"s":1,"k":1,"t":21,"a":2},{"p":1,"s":1,"k":1,"t":27,"a":-1},{"p":1,"s":1,"k":1,"t":33,"a":0},{"p":1,"s":1,"k":1,"t":40,"a":2},{"p":1,"s":1,"k":1,"t":45,"a":0},{"p":1,"s":1,"k":1,"t":49,"a":-3},{"p":1,"s":1,"k":1,"t":53.7,"a":-6},{"p":1,"s":1,"k":1,"t":58.3,"a":18},{"p":1,"s":1,"k":1,"t":61.5,"a":-13},{"p":1,"s":1,"k":1,"t":65.9,"a":5},{"p":1,"s":1,"k":1,"t":68,"a":3},{"p":1,"s":1,"k":1,"t":70.4,"a":5},{"p":1,"s":1,"k":1,"t":74,"a":-3},{"p":1,"s":1,"k":1,"t":78,"a":1},{"p":1,"s":1,"k":1,"t":83,"a":0},{"p":1,"s":1,"k":1,"t":180,"a":0},
{"p":1,"s":2,"k":0,"t":0,"a":0},{"p":1,"s":2,"k":0,"t":4,"a":1},{"p":1,"s":2,"k":0,"t":8,"a":2},{"p":1,"s":2,"k":0,"t":12,"a":-2},{"p":1,"s":2,"k":0,"t":16,"a":1},{"p":1,"s":2,"k":0,"t":20,"a":3},{"p":1,"s":2,"k":0,"t":23.5,"a":5},{"p":1,"s":2,"k":0,"t":27,"a":-3},{"p":1,"s":2,"k":0,"t":31,"a":3},{"p":1,"s":2,"k":0,"t":34,"a":-2},{"p":1,"s":2,"k":0,"t":37,"a":3},{"p":1,"s":2,"k":0,"t":39.5,"a":7},{"p":1,"s":2,"k":0,"t":43,"a":-3},{"p":1,"s":2,"k":0,"t":46,"a":0},{"p":1,"s":2,"k":0,"t":50.5,"a":-8},{"p":1,"s":2,"k":0,"t":55.5,"a":16},{"p":1,"s":2,"k":0,"t":59.5,"a":-14},{"p":1,"s":2,"k":0,"t":64.5,"a":5},{"p":1,"s":2,"k":0,"t":68,"a":0},{"p":1,"s":2,"k":0,"t":71,"a":3},{"p":1,"s":2,"k":0,"t":74,"a":-2},{"p":1,"s":2,"k":0,"t":77,"a":2},{"p":1,"s":2,"k":0,"t":80,"a":-2},{"p":1,"s":2,"k":0,"t":83,"a":2},{"p":1,"s":2,"k":0,"t":86,"a":-2},{"p":1,"s":2,"k":0,"t":89,"a":2},{"p":1,"s":2,"k":0,"t":92,"a":-2},{"p":1,"s":2,"k":0,"t":95,"a":2},{"p":1,"s":2,"k":0,"t":98,"a":-2},{"p":1,"s":2,"k":0,"t":101,"a":2},{"p":1,"s":2,"k":0,"t":104,"a":-2},{"p":1,"s":2,"k":0,"t":107,"a":2},{"p":1,"s":2,"k":0,"t":110,"a":-2},{"p":1,"s":2,"k":0,"t":113,"a":2},{"p":1,"s":2,"k":0,"t":116,"a":-2},{"p":1,"s":2,"k":0,"t":119,"a":2},{"p":1,"s":2,"k":0,"t":122,"a":-3},{"p":1,"s":2,"k":0,"t":125,"a":3},{"p":1,"s":2,"k":0,"t":128,"a":-3},{"p":1,"s":2,"k":0,"t":131,"a":3},{"p":1,"s":2,"k":0,"t":134,"a":-3},{"p":1,"s":2,"k":0,"t":137,"a":2},{"p":1,"s":2,"k":0,"t":141,"a":-2},{"p":1,"s":2,"k":0,"t":145,"a":2},{"p":1,"s":2,"k":0,"t":149,"a":-2},{"p":1,"s":2,"k":0,"t":153,"a":2},{"p":1,"s":2,"k":0,"t":157,"a":-2},{"p":1,"s":2,"k":0,"t":161,"a":2},{"p":1,"s":2,"k":0,"t":165,"a":-2},{"p":1,"s":2,"k":0,"t":169,"a":2},{"p":1,"s":2,"k":0,"t":173,"a":-2},{"p":1,"s":2,"k":0,"t":177,"a":2},{"p":1,"s":2,"k":0,"t":180,"a":0},
{"p":1,"s":2,"k":1,"t":0,"a":0},{"p":1,"s":2,"k":1,"t":6.7,"a":2},{"p":1,"s":2,"k":1,"t":12,"a":-2},{"p":1,"s":2,"k":1,"t":18,"a":1},{"p":1,"s":2,"k":1,"t":23.4,"a":4.5},{"p":1,"s":2,"k":1,"t":28,"a":-3},{"p":1,"s":2,"k":1,"t":32.5,"a":3},{"p":1,"s":2,"k":1,"t":36,"a":-2},{"p":1,"s":2,"k":1,"t":40,"a":2},{"p":1,"s":2,"k":1,"t":44.6,"a":-2},{"p":1,"s":2,"k":1,"t":50.7,"a":-7},{"p":1,"s":2,"k":1,"t":55.9,"a":17},{"p":1,"s":2,"k":1,"t":58.9,"a":-14},{"p":1,"s":2,"k":1,"t":63.8,"a":3},{"p":1,"s":2,"k":1,"t":66,"a":1},{"p":1,"s":2,"k":1,"t":69,"a":2},{"p":1,"s":2,"k":1,"t":75,"a":-1},{"p":1,"s":2,"k":1,"t":80,"a":0},{"p":1,"s":2,"k":1,"t":180,"a":0},
{"p":1,"s":3,"k":0,"t":0,"a":0},{"p":1,"s":3,"k":0,"t":5,"a":-1},{"p":1,"s":3,"k":0,"t":10,"a":1},{"p":1,"s":3,"k":0,"t":14,"a":-1},{"p":1,"s":3,"k":0,"t":18,"a":1},{"p":1,"s":3,"k":0,"t":21,"a":0},{"p":1,"s":3,"k":0,"t":23.4,"a":6},{"p":1,"s":3,"k":0,"t":26.5,"a":-3},{"p":1,"s":3,"k":0,"t":30,"a":1},{"p":1,"s":3,"k":0,"t":33,"a":2},{"p":1,"s":3,"k":0,"t":37,"a":5},{"p":1,"s":3,"k":0,"t":41,"a":-3},{"p":1,"s":3,"k":0,"t":44.6,"a":6},{"p":1,"s":3,"k":0,"t":48.6,"a":-9},{"p":1,"s":3,"k":0,"t":52.8,"a":18},{"p":1,"s":3,"k":0,"t":56.8,"a":-18},{"p":1,"s":3,"k":0,"t":60.7,"a":6},{"p":1,"s":3,"k":0,"t":63,"a":0},{"p":1,"s":3,"k":0,"t":65.5,"a":4},{"p":1,"s":3,"k":0,"t":69,"a":-3},{"p":1,"s":3,"k":0,"t":72,"a":3},{"p":1,"s":3,"k":0,"t":75,"a":-2},{"p":1,"s":3,"k":0,"t":78,"a":2},{"p":1,"s":3,"k":0,"t":81,"a":-3},{"p":1,"s":3,"k":0,"t":84,"a":2},{"p":1,"s":3,"k":0,"t":87,"a":-2},{"p":1,"s":3,"k":0,"t":90,"a":2},{"p":1,"s":3,"k":0,"t":93,"a":-2},{"p":1,"s":3,"k":0,"t":96,"a":2},{"p":1,"s":3,"k":0,"t":99,"a":-2},{"p":1,"s":3,"k":0,"t":102,"a":2},{"p":1,"s":3,"k":0,"t":105,"a":-2},{"p":1,"s":3,"k":0,"t":108,"a":2},{"p":1,"s":3,"k":0,"t":111,"a":-2},{"p":1,"s":3,"k":0,"t":114,"a":2},{"p":1,"s":3,"k":0,"t":117,"a":-2},{"p":1,"s":3,"k":0,"t":120,"a":2},{"p":1,"s":3,"k":0,"t":123,"a":-1},{"p":1,"s":3,"k":0,"t":126,"a":2},{"p":1,"s":3,"k":0,"t":129,"a":-2},{"p":1,"s":3,"k":0,"t":132,"a":2},{"p":1,"s":3,"k":0,"t":135,"a":-2},{"p":1,"s":3,"k":0,"t":138,"a":1},{"p":1,"s":3,"k":0,"t":141,"a":-2},{"p":1,"s":3,"k":0,"t":144,"a":2},{"p":1,"s":3,"k":0,"t":148,"a":-1},{"p":1,"s":3,"k":0,"t":152,"a":1},{"p":1,"s":3,"k":0,"t":156,"a":-2},{"p":1,"s":3,"k":0,"t":160,"a":1},{"p":1,"s":3,"k":0,"t":164,"a":-1},{"p":1,"s":3,"k":0,"t":168,"a":1},{"p":1,"s":3,"k":0,"t":172,"a":-1},{"p":1,"s":3,"k":0,"t":176,"a":1},{"p":1,"s":3,"k":0,"t":180,"a":0},
{"p":1,"s":3,"k":1,"t":0,"a":0},{"p":1,"s":3,"k":1,"t":12,"a":0},{"p":1,"s":3,"k":1,"t":18.8,"a":-1},{"p":1,"s":3,"k":1,"t":23.4,"a":3},{"p":1,"s":3,"k":1,"t":28,"a":-3},{"p":1,"s":3,"k":1,"t":33,"a":1},{"p":1,"s":3,"k":1,"t":37,"a":3},{"p":1,"s":3,"k":1,"t":41,"a":-3},{"p":1,"s":3,"k":1,"t":44.6,"a":5},{"p":1,"s":3,"k":1,"t":48.6,"a":-10},{"p":1,"s":3,"k":1,"t":52.8,"a":20},{"p":1,"s":3,"k":1,"t":56.8,"a":-20},{"p":1,"s":3,"k":1,"t":60.7,"a":8},{"p":1,"s":3,"k":1,"t":63,"a":3},{"p":1,"s":3,"k":1,"t":65,"a":7},{"p":1,"s":3,"k":1,"t":68,"a":-3},{"p":1,"s":3,"k":1,"t":72,"a":3},{"p":1,"s":3,"k":1,"t":76,"a":-2},{"p":1,"s":3,"k":1,"t":80,"a":1.5},{"p":1,"s":3,"k":1,"t":84,"a":-1},{"p":1,"s":3,"k":1,"t":88,"a":1},{"p":1,"s":3,"k":1,"t":94,"a":-1},{"p":1,"s":3,"k":1,"t":100,"a":0},{"p":1,"s":3,"k":1,"t":180,"a":0},
{"p":1,"s":4,"k":0,"t":0,"a":0},{"p":1,"s":4,"k":0,"t":2,"a":-3},{"p":1,"s":4,"k":0,"t":5,"a":-9.5},{"p":1,"s":4,"k":0,"t":8,"a":2},{"p":1,"s":4,"k":0,"t":11.2,"a":16},{"p":1,"s":4,"k":0,"t":14,"a":10},{"p":1,"s":4,"k":0,"t":17,"a":2},{"p":1,"s":4,"k":0,"t":20,"a":-8},{"p":1,"s":4,"k":0,"t":23.4,"a":-13},{"p":1,"s":4,"k":0,"t":26,"a":-6},{"p":1,"s":4,"k":0,"t":28,"a":0},{"p":1,"s":4,"k":0,"t":30.5,"a":3},{"p":1,"s":4,"k":0,"t":32.5,"a":8},{"p":1,"s":4,"k":0,"t":35,"a":2},{"p":1,"s":4,"k":0,"t":37,"a":-5},{"p":1,"s":4,"k":0,"t":40,"a":3},{"p":1,"s":4,"k":0,"t":42,"a":7},{"p":1,"s":4,"k":0,"t":44.6,"a":14},{"p":1,"s":4,"k":0,"t":47.7,"a":-20},{"p":1,"s":4,"k":0,"t":50.7,"a":15},{"p":1,"s":4,"k":0,"t":53.7,"a":-12},{"p":1,"s":4,"k":0,"t":56.8,"a":12},{"p":1,"s":4,"k":0,"t":59.5,"a":-8},{"p":1,"s":4,"k":0,"t":62,"a":6},{"p":1,"s":4,"k":0,"t":64.5,"a":-5},{"p":1,"s":4,"k":0,"t":67,"a":4},{"p":1,"s":4,"k":0,"t":69.5,"a":-4},{"p":1,"s":4,"k":0,"t":72,"a":4},{"p":1,"s":4,"k":0,"t":74.5,"a":-3},{"p":1,"s":4,"k":0,"t":77,"a":4},{"p":1,"s":4,"k":0,"t":79.5,"a":-3},{"p":1,"s":4,"k":0,"t":82,"a":3},{"p":1,"s":4,"k":0,"t":84.5,"a":-4},{"p":1,"s":4,"k":0,"t":87,"a":3},{"p":1,"s":4,"k":0,"t":89.5,"a":-3},{"p":1,"s":4,"k":0,"t":92,"a":3},{"p":1,"s":4,"k":0,"t":94.5,"a":-3},{"p":1,"s":4,"k":0,"t":97,"a":3},{"p":1,"s":4,"k":0,"t":99.5,"a":-3},{"p":1,"s":4,"k":0,"t":102,"a":4},{"p":1,"s":4,"k":0,"t":104.5,"a":-3},{"p":1,"s":4,"k":0,"t":107,"a":3},{"p":1,"s":4,"k":0,"t":109.5,"a":-4},{"p":1,"s":4,"k":0,"t":112,"a":3},{"p":1,"s":4,"k":0,"t":114.5,"a":-3},{"p":1,"s":4,"k":0,"t":117,"a":3},{"p":1,"s":4,"k":0,"t":119.5,"a":-3},{"p":1,"s":4,"k":0,"t":122,"a":4},{"p":1,"s":4,"k":0,"t":124.5,"a":-3},{"p":1,"s":4,"k":0,"t":127,"a":3},{"p":1,"s":4,"k":0,"t":129.5,"a":-4},{"p":1,"s":4,"k":0,"t":132,"a":3},{"p":1,"s":4,"k":0,"t":134.5,"a":-3},{"p":1,"s":4,"k":0,"t":137,"a":4},{"p":1,"s":4,"k":0,"t":140,"a":-3},{"p":1,"s":4,"k":0,"t":143,"a":3},{"p":1,"s":4,"k":0,"t":146,"a":-4},{"p":1,"s":4,"k":0,"t":149,"a":3},{"p":1,"s":4,"k":0,"t":152,"a":-3},{"p":1,"s":4,"k":0,"t":155,"a":4},{"p":1,"s":4,"k":0,"t":158,"a":-3},{"p":1,"s":4,"k":0,"t":161,"a":3},{"p":1,"s":4,"k":0,"t":164,"a":-4},{"p":1,"s":4,"k":0,"t":167,"a":3},{"p":1,"s":4,"k":0,"t":170,"a":-3},{"p":1,"s":4,"k":0,"t":173,"a":4},{"p":1,"s":4,"k":0,"t":176,"a":-3},{"p":1,"s":4,"k":0,"t":179,"a":3},{"p":1,"s":4,"k":0,"t":180,"a":0},
{"p":1,"s":4,"k":1,"t":0,"a":0},{"p":1,"s":4,"k":1,"t":6,"a":0},{"p":1,"s":4,"k":1,"t":9.7,"a":-3},{"p":1,"s":4,"k":1,"t":15.8,"a":3},{"p":1,"s":4,"k":1,"t":19,"a":-2},{"p":1,"s":4,"k":1,"t":23.4,"a":5},{"p":1,"s":4,"k":1,"t":28,"a":-5},{"p":1,"s":4,"k":1,"t":31,"a":2},{"p":1,"s":4,"k":1,"t":34,"a":7},{"p":1,"s":4,"k":1,"t":37,"a":-3},{"p":1,"s":4,"k":1,"t":40,"a":4},{"p":1,"s":4,"k":1,"t":42,"a":-2},{"p":1,"s":4,"k":1,"t":44.6,"a":17},{"p":1,"s":4,"k":1,"t":48.6,"a":-19},{"p":1,"s":4,"k":1,"t":51.6,"a":14},{"p":1,"s":4,"k":1,"t":54.6,"a":-10},{"p":1,"s":4,"k":1,"t":57.4,"a":12.5},{"p":1,"s":4,"k":1,"t":60,"a":-8},{"p":1,"s":4,"k":1,"t":62.5,"a":6},{"p":1,"s":4,"k":1,"t":65,"a":-5},{"p":1,"s":4,"k":1,"t":67.5,"a":5},{"p":1,"s":4,"k":1,"t":70,"a":-4},{"p":1,"s":4,"k":1,"t":72.5,"a":4},{"p":1,"s":4,"k":1,"t":75,"a":-3},{"p":1,"s":4,"k":1,"t":77.5,"a":3},{"p":1,"s":4,"k":1,"t":80,"a":-3},{"p":1,"s":4,"k":1,"t":82.5,"a":3},{"p":1,"s":4,"k":1,"t":85,"a":-3},{"p":1,"s":4,"k":1,"t":87.5,"a":3},{"p":1,"s":4,"k":1,"t":90,"a":-2},{"p":1,"s":4,"k":1,"t":93,"a":2},{"p":1,"s":4,"k":1,"t":96,"a":-2},{"p":1,"s":4,"k":1,"t":99,"a":2},{"p":1,"s":4,"k":1,"t":102,"a":-2},{"p":1,"s":4,"k":1,"t":105,"a":2},{"p":1,"s":4,"k":1,"t":108,"a":-2},{"p":1,"s":4,"k":1,"t":111,"a":2},{"p":1,"s":4,"k":1,"t":114,"a":-2},{"p":1,"s":4,"k":1,"t":117,"a":2},{"p":1,"s":4,"k":1,"t":120,"a":-2},{"p":1,"s":4,"k":1,"t":123,"a":2},{"p":1,"s":4,"k":1,"t":126,"a":-1.5},{"p":1,"s":4,"k":1,"t":129,"a":1.5},{"p":1,"s":4,"k":1,"t":132,"a":-1.5},{"p":1,"s":4,"k":1,"t":135,"a":1.5},{"p":1,"s":4,"k":1,"t":138,"a":-1.5},{"p":1,"s":4,"k":1,"t":141,"a":1.5},{"p":1,"s":4,"k":1,"t":144,"a":-1.5},{"p":1,"s":4,"k":1,"t":147,"a":1.5},{"p":1,"s":4,"k":1,"t":150,"a":-1},{"p":1,"s":4,"k":1,"t":155,"a":1},{"p":1,"s":4,"k":1,"t":160,"a":-1},{"p":1,"s":4,"k":1,"t":165,"a":1},{"p":1,"s":4,"k":1,"t":170,"a":-1},{"p":1,"s":4,"k":1,"t":175,"a":1},{"p":1,"s":4,"k":1,"t":180,"a":0},
{"p":1,"s":5,"k":0,"t":0,"a":0},{"p":1,"s":5,"k":0,"t":4,"a":1},{"p":1,"s":5,"k":0,"t":9,"a":-3},{"p":1,"s":5,"k":0,"t":13,"a":-3},{"p":1,"s":5,"k":0,"t":17,"a":2},{"p":1,"s":5,"k":0,"t":21.9,"a":8},{"p":1,"s":5,"k":0,"t":26,"a":-4},{"p":1,"s":5,"k":0,"t":29,"a":0},{"p":1,"s":5,"k":0,"t":33,"a":-8},{"p":1,"s":5,"k":0,"t":37,"a":1},{"p":1,"s":5,"k":0,"t":40,"a":6},{"p":1,"s":5,"k":0,"t":44.6,"a":-16.5},{"p":1,"s":5,"k":0,"t":49,"a":15},{"p":1,"s":5,"k":0,"t":53.7,"a":-18},{"p":1,"s":5,"k":0,"t":56.8,"a":10},{"p":1,"s":5,"k":0,"t":59.5,"a":-8},{"p":1,"s":5,"k":0,"t":62.8,"a":7},{"p":1,"s":5,"k":0,"t":65.5,"a":-8},{"p":1,"s":5,"k":0,"t":68.5,"a":5},{"p":1,"s":5,"k":0,"t":72,"a":-5},{"p":1,"s":5,"k":0,"t":75,"a":3},{"p":1,"s":5,"k":0,"t":78,"a":-3},{"p":1,"s":5,"k":0,"t":81,"a":3},{"p":1,"s":5,"k":0,"t":84,"a":-2},{"p":1,"s":5,"k":0,"t":87,"a":3},{"p":1,"s":5,"k":0,"t":90,"a":-2},{"p":1,"s":5,"k":0,"t":93,"a":2},{"p":1,"s":5,"k":0,"t":96,"a":-2},{"p":1,"s":5,"k":0,"t":100,"a":2},{"p":1,"s":5,"k":0,"t":104,"a":-1},{"p":1,"s":5,"k":0,"t":108,"a":2},{"p":1,"s":5,"k":0,"t":112,"a":-2},{"p":1,"s":5,"k":0,"t":116,"a":2},{"p":1,"s":5,"k":0,"t":120,"a":-1},{"p":1,"s":5,"k":0,"t":124,"a":1},{"p":1,"s":5,"k":0,"t":128,"a":-2},{"p":1,"s":5,"k":0,"t":132,"a":1},{"p":1,"s":5,"k":0,"t":136,"a":-1},{"p":1,"s":5,"k":0,"t":140,"a":2},{"p":1,"s":5,"k":0,"t":144,"a":-1},{"p":1,"s":5,"k":0,"t":148,"a":1},{"p":1,"s":5,"k":0,"t":152,"a":-1},{"p":1,"s":5,"k":0,"t":156,"a":2},{"p":1,"s":5,"k":0,"t":160,"a":-1},{"p":1,"s":5,"k":0,"t":165,"a":1},{"p":1,"s":5,"k":0,"t":170,"a":-2},{"p":1,"s":5,"k":0,"t":175,"a":1},{"p":1,"s":5,"k":0,"t":180,"a":0},
{"p":1,"s":5,"k":1,"t":0,"a":0},{"p":1,"s":5,"k":1,"t":5,"a":0},{"p":1,"s":5,"k":1,"t":9.7,"a":3},{"p":1,"s":5,"k":1,"t":13,"a":-2},{"p":1,"s":5,"k":1,"t":18,"a":-1},{"p":1,"s":5,"k":1,"t":24,"a":1},{"p":1,"s":5,"k":1,"t":28,"a":-2},{"p":1,"s":5,"k":1,"t":33,"a":-6},{"p":1,"s":5,"k":1,"t":40,"a":4},{"p":1,"s":5,"k":1,"t":44.6,"a":-8},{"p":1,"s":5,"k":1,"t":49.8,"a":11.5},{"p":1,"s":5,"k":1,"t":54.6,"a":-5},{"p":1,"s":5,"k":1,"t":59,"a":2},{"p":1,"s":5,"k":1,"t":63,"a":0},{"p":1,"s":5,"k":1,"t":67,"a":2},{"p":1,"s":5,"k":1,"t":72,"a":0},{"p":1,"s":5,"k":1,"t":180,"a":0},
{"p":1,"s":6,"k":0,"t":0,"a":0},{"p":1,"s":6,"k":0,"t":4,"a":1},{"p":1,"s":6,"k":0,"t":8,"a":-2},{"p":1,"s":6,"k":0,"t":11,"a":-3},{"p":1,"s":6,"k":0,"t":14.3,"a":-5},{"p":1,"s":6,"k":0,"t":17,"a":1},{"p":1,"s":6,"k":0,"t":20,"a":4},{"p":1,"s":6,"k":0,"t":22.5,"a":9},{"p":1,"s":6,"k":0,"t":26,"a":-3},{"p":1,"s":6,"k":0,"t":28.5,"a":2},{"p":1,"s":6,"k":0,"t":30.5,"a":8},{"p":1,"s":6,"k":0,"t":34,"a":-5},{"p":1,"s":6,"k":0,"t":37,"a":-2},{"p":1,"s":6,"k":0,"t":40,"a":-12},{"p":1,"s":6,"k":0,"t":43.7,"a":20},{"p":1,"s":6,"k":0,"t":48,"a":-12},{"p":1,"s":6,"k":0,"t":50.5,"a":5},{"p":1,"s":6,"k":0,"t":53,"a":-8},{"p":1,"s":6,"k":0,"t":58.3,"a":3},{"p":1,"s":6,"k":0,"t":61,"a":-2},{"p":1,"s":6,"k":0,"t":64,"a":3},{"p":1,"s":6,"k":0,"t":67,"a":-3},{"p":1,"s":6,"k":0,"t":70,"a":2},{"p":1,"s":6,"k":0,"t":73,"a":-2},{"p":1,"s":6,"k":0,"t":76,"a":3},{"p":1,"s":6,"k":0,"t":79,"a":-2},{"p":1,"s":6,"k":0,"t":82,"a":2},{"p":1,"s":6,"k":0,"t":85,"a":-3},{"p":1,"s":6,"k":0,"t":88,"a":2},{"p":1,"s":6,"k":0,"t":91,"a":-2},{"p":1,"s":6,"k":0,"t":94,"a":3},{"p":1,"s":6,"k":0,"t":97,"a":-2},{"p":1,"s":6,"k":0,"t":100,"a":4},{"p":1,"s":6,"k":0,"t":103,"a":-4},{"p":1,"s":6,"k":0,"t":106,"a":4},{"p":1,"s":6,"k":0,"t":109,"a":-3},{"p":1,"s":6,"k":0,"t":112,"a":2},{"p":1,"s":6,"k":0,"t":116,"a":-2},{"p":1,"s":6,"k":0,"t":120,"a":2},{"p":1,"s":6,"k":0,"t":124,"a":-1},{"p":1,"s":6,"k":0,"t":128,"a":1},{"p":1,"s":6,"k":0,"t":133,"a":-1},{"p":1,"s":6,"k":0,"t":138,"a":1},{"p":1,"s":6,"k":0,"t":143,"a":-1},{"p":1,"s":6,"k":0,"t":148,"a":2},{"p":1,"s":6,"k":0,"t":153,"a":-1},{"p":1,"s":6,"k":0,"t":158,"a":1},{"p":1,"s":6,"k":0,"t":163,"a":-1},{"p":1,"s":6,"k":0,"t":168,"a":1},{"p":1,"s":6,"k":0,"t":173,"a":-1},{"p":1,"s":6,"k":0,"t":178,"a":1},{"p":1,"s":6,"k":0,"t":180,"a":0},
{"p":1,"s":6,"k":1,"t":0,"a":0},{"p":1,"s":6,"k":1,"t":6.7,"a":1},{"p":1,"s":6,"k":1,"t":10,"a":-2},{"p":1,"s":6,"k":1,"t":14.3,"a":-5},{"p":1,"s":6,"k":1,"t":18.8,"a":2},{"p":1,"s":6,"k":1,"t":23.4,"a":10},{"p":1,"s":6,"k":1,"t":28,"a":-5},{"p":1,"s":6,"k":1,"t":31,"a":7},{"p":1,"s":6,"k":1,"t":35.5,"a":-3},{"p":1,"s":6,"k":1,"t":37.5,"a":0},{"p":1,"s":6,"k":1,"t":40.5,"a":-13},{"p":1,"s":6,"k":1,"t":43.7,"a":21},{"p":1,"s":6,"k":1,"t":48,"a":-14},{"p":1,"s":6,"k":1,"t":51.6,"a":1},{"p":1,"s":6,"k":1,"t":53.5,"a":-10},{"p":1,"s":6,"k":1,"t":58.3,"a":4.5},{"p":1,"s":6,"k":1,"t":62,"a":3},{"p":1,"s":6,"k":1,"t":67,"a":-1},{"p":1,"s":6,"k":1,"t":72,"a":0},{"p":1,"s":6,"k":1,"t":180,"a":0},
{"p":1,"s":7,"k":0,"t":0,"a":0},{"p":1,"s":7,"k":0,"t":5,"a":-1},{"p":1,"s":7,"k":0,"t":10,"a":1},{"p":1,"s":7,"k":0,"t":14,"a":-1},{"p":1,"s":7,"k":0,"t":17.3,"a":2},{"p":1,"s":7,"k":0,"t":21.9,"a":5},{"p":1,"s":7,"k":0,"t":26,"a":-2},{"p":1,"s":7,"k":0,"t":29,"a":1},{"p":1,"s":7,"k":0,"t":31,"a":4},{"p":1,"s":7,"k":0,"t":34,"a":0},{"p":1,"s":7,"k":0,"t":37,"a":-9},{"p":1,"s":7,"k":0,"t":41.6,"a":18},{"p":1,"s":7,"k":0,"t":47,"a":-12},{"p":1,"s":7,"k":0,"t":52,"a":3},{"p":1,"s":7,"k":0,"t":56.8,"a":4},{"p":1,"s":7,"k":0,"t":60,"a":-2},{"p":1,"s":7,"k":0,"t":63,"a":3},{"p":1,"s":7,"k":0,"t":65.5,"a":-4},{"p":1,"s":7,"k":0,"t":67.5,"a":5},{"p":1,"s":7,"k":0,"t":69.5,"a":-6},{"p":1,"s":7,"k":0,"t":72,"a":6},{"p":1,"s":7,"k":0,"t":74,"a":-7},{"p":1,"s":7,"k":0,"t":76.5,"a":6},{"p":1,"s":7,"k":0,"t":79,"a":-6},{"p":1,"s":7,"k":0,"t":81,"a":5},{"p":1,"s":7,"k":0,"t":83.5,"a":-4},{"p":1,"s":7,"k":0,"t":86,"a":3},{"p":1,"s":7,"k":0,"t":89,"a":-2},{"p":1,"s":7,"k":0,"t":92,"a":2},{"p":1,"s":7,"k":0,"t":95,"a":-2},{"p":1,"s":7,"k":0,"t":98,"a":2},{"p":1,"s":7,"k":0,"t":101,"a":-2},{"p":1,"s":7,"k":0,"t":104,"a":2},{"p":1,"s":7,"k":0,"t":107,"a":-2},{"p":1,"s":7,"k":0,"t":110,"a":2},{"p":1,"s":7,"k":0,"t":114,"a":-1},{"p":1,"s":7,"k":0,"t":118,"a":1},{"p":1,"s":7,"k":0,"t":122,"a":-2},{"p":1,"s":7,"k":0,"t":126,"a":1},{"p":1,"s":7,"k":0,"t":130,"a":-1},{"p":1,"s":7,"k":0,"t":134,"a":2},{"p":1,"s":7,"k":0,"t":138,"a":-1},{"p":1,"s":7,"k":0,"t":142,"a":1},{"p":1,"s":7,"k":0,"t":146,"a":-1},{"p":1,"s":7,"k":0,"t":150,"a":1},{"p":1,"s":7,"k":0,"t":154,"a":-1},{"p":1,"s":7,"k":0,"t":158,"a":1},{"p":1,"s":7,"k":0,"t":162,"a":-1},{"p":1,"s":7,"k":0,"t":166,"a":2},{"p":1,"s":7,"k":0,"t":170,"a":-1},{"p":1,"s":7,"k":0,"t":175,"a":1},{"p":1,"s":7,"k":0,"t":180,"a":0},
{"p":1,"s":7,"k":1,"t":0,"a":0},{"p":1,"s":7,"k":1,"t":5,"a":1},{"p":1,"s":7,"k":1,"t":12,"a":-2},{"p":1,"s":7,"k":1,"t":17.3,"a":3},{"p":1,"s":7,"k":1,"t":21.9,"a":-3},{"p":1,"s":7,"k":1,"t":25,"a":2},{"p":1,"s":7,"k":1,"t":28,"a":0},{"p":1,"s":7,"k":1,"t":31,"a":3},{"p":1,"s":7,"k":1,"t":37,"a":-10},{"p":1,"s":7,"k":1,"t":41.6,"a":20.5},{"p":1,"s":7,"k":1,"t":47.7,"a":-14},{"p":1,"s":7,"k":1,"t":52,"a":-3},{"p":1,"s":7,"k":1,"t":56.8,"a":5},{"p":1,"s":7,"k":1,"t":62.8,"a":-2},{"p":1,"s":7,"k":1,"t":67,"a":0},{"p":1,"s":7,"k":1,"t":180,"a":0},
{"p":1,"s":8,"k":0,"t":0,"a":2},{"p":1,"s":8,"k":0,"t":3,"a":0},{"p":1,"s":8,"k":0,"t":6.7,"a":-4.5},{"p":1,"s":8,"k":0,"t":10,"a":-3},{"p":1,"s":8,"k":0,"t":14,"a":0},{"p":1,"s":8,"k":0,"t":16,"a":2},{"p":1,"s":8,"k":0,"t":19,"a":0},{"p":1,"s":8,"k":0,"t":21,"a":3},{"p":1,"s":8,"k":0,"t":23.4,"a":10},{"p":1,"s":8,"k":0,"t":25.5,"a":-4},{"p":1,"s":8,"k":0,"t":27.5,"a":13},{"p":1,"s":8,"k":0,"t":30.5,"a":-18},{"p":1,"s":8,"k":0,"t":33,"a":6},{"p":1,"s":8,"k":0,"t":35,"a":-4},{"p":1,"s":8,"k":0,"t":37,"a":9},{"p":1,"s":8,"k":0,"t":39.5,"a":-8},{"p":1,"s":8,"k":0,"t":42.5,"a":6},{"p":1,"s":8,"k":0,"t":45.5,"a":-5},{"p":1,"s":8,"k":0,"t":48,"a":4},{"p":1,"s":8,"k":0,"t":51,"a":-3},{"p":1,"s":8,"k":0,"t":54,"a":2},{"p":1,"s":8,"k":0,"t":57,"a":-2},{"p":1,"s":8,"k":0,"t":60,"a":2},{"p":1,"s":8,"k":0,"t":63,"a":-2},{"p":1,"s":8,"k":0,"t":66,"a":2},{"p":1,"s":8,"k":0,"t":69,"a":-2},{"p":1,"s":8,"k":0,"t":72,"a":1},{"p":1,"s":8,"k":0,"t":76,"a":-2},{"p":1,"s":8,"k":0,"t":80,"a":2},{"p":1,"s":8,"k":0,"t":84,"a":-1},{"p":1,"s":8,"k":0,"t":88,"a":1},{"p":1,"s":8,"k":0,"t":92,"a":-1},{"p":1,"s":8,"k":0,"t":96,"a":2},{"p":1,"s":8,"k":0,"t":100,"a":-1},{"p":1,"s":8,"k":0,"t":104,"a":1},{"p":1,"s":8,"k":0,"t":108,"a":-1},{"p":1,"s":8,"k":0,"t":112,"a":1},{"p":1,"s":8,"k":0,"t":116,"a":-2},{"p":1,"s":8,"k":0,"t":120,"a":1},{"p":1,"s":8,"k":0,"t":124,"a":-1},{"p":1,"s":8,"k":0,"t":128,"a":1},{"p":1,"s":8,"k":0,"t":132,"a":-1},{"p":1,"s":8,"k":0,"t":136,"a":2},{"p":1,"s":8,"k":0,"t":140,"a":-1},{"p":1,"s":8,"k":0,"t":144,"a":1},{"p":1,"s":8,"k":0,"t":148,"a":-1},{"p":1,"s":8,"k":0,"t":152,"a":1},{"p":1,"s":8,"k":0,"t":156,"a":-2},{"p":1,"s":8,"k":0,"t":160,"a":1},{"p":1,"s":8,"k":0,"t":164,"a":-1},{"p":1,"s":8,"k":0,"t":168,"a":1},{"p":1,"s":8,"k":0,"t":172,"a":-1},{"p":1,"s":8,"k":0,"t":176,"a":1},{"p":1,"s":8,"k":0,"t":180,"a":0},
{"p":1,"s":8,"k":1,"t":0,"a":0},{"p":1,"s":8,"k":1,"t":20,"a":0},{"p":1,"s":8,"k":1,"t":23,"a":3},{"p":1,"s":8,"k":1,"t":25,"a":-2},{"p":1,"s":8,"k":1,"t":27.3,"a":21},{"p":1,"s":8,"k":1,"t":30.4,"a":-30},{"p":1,"s":8,"k":1,"t":32.5,"a":11},{"p":1,"s":8,"k":1,"t":34.5,"a":-6},{"p":1,"s":8,"k":1,"t":36.4,"a":12.5},{"p":1,"s":8,"k":1,"t":38.5,"a":-10},{"p":1,"s":8,"k":1,"t":40.5,"a":8},{"p":1,"s":8,"k":1,"t":42.5,"a":-6},{"p":1,"s":8,"k":1,"t":44.5,"a":5},{"p":1,"s":8,"k":1,"t":46.5,"a":-4},{"p":1,"s":8,"k":1,"t":49,"a":3},{"p":1,"s":8,"k":1,"t":52,"a":-2},{"p":1,"s":8,"k":1,"t":55,"a":1.5},{"p":1,"s":8,"k":1,"t":58,"a":-1},{"p":1,"s":8,"k":1,"t":62,"a":0.5},{"p":1,"s":8,"k":1,"t":66,"a":0},{"p":1,"s":8,"k":1,"t":180,"a":0},
{"p":2,"s":0,"k":0,"t":0,"a":0},{"p":2,"s":0,"k":0,"t":4,"a":-1},{"p":2,"s":0,"k":0,"t":8,"a":-1.5},{"p":2,"s":0,"k":0,"t":12,"a":1},{"p":2,"s":0,"k":0,"t":16,"a":0},{"p":2,"s":0,"k":0,"t":20,"a":-1},{"p":2,"s":0,"k":0,"t":25,"a":1},{"p":2,"s":0,"k":0,"t":30,"a":-1},{"p":2,"s":0,"k":0,"t":36,"a":1},{"p":2,"s":0,"k":0,"t":42,"a":0},{"p":2,"s":0,"k":0,"t":48,"a":-1},{"p":2,"s":0,"k":0,"t":55,"a":0},{"p":2,"s":0,"k":0,"t":62,"a":1},{"p":2,"s":0,"k":0,"t":67.7,"a":0},{"p":2,"s":0,"k":0,"t":69.2,"a":2},{"p":2,"s":0,"k":0,"t":75.3,"a":-3},{"p":2,"s":0,"k":0,"t":83.8,"a":6},{"p":2,"s":0,"k":0,"t":90.5,"a":-7},{"p":2,"s":0,"k":0,"t":94.5,"a":7},{"p":2,"s":0,"k":0,"t":98.5,"a":-8},{"p":2,"s":0,"k":0,"t":102.5,"a":9},{"p":2,"s":0,"k":0,"t":106,"a":-9},{"p":2,"s":0,"k":0,"t":109.6,"a":10},{"p":2,"s":0,"k":0,"t":113.3,"a":-9},{"p":2,"s":0,"k":0,"t":117.2,"a":11},{"p":2,"s":0,"k":0,"t":120.8,"a":-10},{"p":2,"s":0,"k":0,"t":124.5,"a":9},{"p":2,"s":0,"k":0,"t":128.3,"a":-8},{"p":2,"s":0,"k":0,"t":132.2,"a":6},{"p":2,"s":0,"k":0,"t":135.8,"a":-5},{"p":2,"s":0,"k":0,"t":139.8,"a":4},{"p":2,"s":0,"k":0,"t":143.4,"a":-3},{"p":2,"s":0,"k":0,"t":147.4,"a":3},{"p":2,"s":0,"k":0,"t":151,"a":-2},{"p":2,"s":0,"k":0,"t":155.5,"a":2},{"p":2,"s":0,"k":0,"t":159,"a":-1.5},{"p":2,"s":0,"k":0,"t":163,"a":1.5},{"p":2,"s":0,"k":0,"t":167,"a":-1.5},{"p":2,"s":0,"k":0,"t":171,"a":1.5},{"p":2,"s":0,"k":0,"t":175,"a":-1},{"p":2,"s":0,"k":0,"t":178,"a":1},{"p":2,"s":0,"k":0,"t":180,"a":0},
{"p":2,"s":0,"k":1,"t":0,"a":0},{"p":2,"s":0,"k":1,"t":66,"a":0},{"p":2,"s":0,"k":1,"t":69.2,"a":3},{"p":2,"s":0,"k":1,"t":75.3,"a":-3.7},{"p":2,"s":0,"k":1,"t":83.8,"a":6.7},{"p":2,"s":0,"k":1,"t":90.5,"a":-7.7},{"p":2,"s":0,"k":1,"t":95,"a":5},{"p":2,"s":0,"k":1,"t":99,"a":-7},{"p":2,"s":0,"k":1,"t":102.6,"a":6},{"p":2,"s":0,"k":1,"t":106,"a":-6},{"p":2,"s":0,"k":1,"t":110,"a":5},{"p":2,"s":0,"k":1,"t":113.6,"a":-5},{"p":2,"s":0,"k":1,"t":117.6,"a":4},{"p":2,"s":0,"k":1,"t":121.5,"a":-4},{"p":2,"s":0,"k":1,"t":125.2,"a":3},{"p":2,"s":0,"k":1,"t":129,"a":-3},{"p":2,"s":0,"k":1,"t":133,"a":2},{"p":2,"s":0,"k":1,"t":137.6,"a":-2},{"p":2,"s":0,"k":1,"t":142,"a":2},{"p":2,"s":0,"k":1,"t":147,"a":-1.5},{"p":2,"s":0,"k":1,"t":152,"a":1.5},{"p":2,"s":0,"k":1,"t":157,"a":-1},{"p":2,"s":0,"k":1,"t":162,"a":1},{"p":2,"s":0,"k":1,"t":168,"a":-1},{"p":2,"s":0,"k":1,"t":174,"a":1},{"p":2,"s":0,"k":1,"t":180,"a":0},
{"p":2,"s":1,"k":0,"t":0,"a":0},{"p":2,"s":1,"k":0,"t":10,"a":0},{"p":2,"s":1,"k":0,"t":20,"a":-1},{"p":2,"s":1,"k":0,"t":30,"a":0},{"p":2,"s":1,"k":0,"t":34.3,"a":0},{"p":2,"s":1,"k":0,"t":37.3,"a":-2},{"p":2,"s":1,"k":0,"t":40,"a":3},{"p":2,"s":1,"k":0,"t":42.5,"a":4},{"p":2,"s":1,"k":0,"t":46.5,"a":-1},{"p":2,"s":1,"k":0,"t":51,"a":-3},{"p":2,"s":1,"k":0,"t":56.5,"a":8},{"p":2,"s":1,"k":0,"t":62,"a":-6},{"p":2,"s":1,"k":0,"t":66.7,"a":6},{"p":2,"s":1,"k":0,"t":70.7,"a":-7},{"p":2,"s":1,"k":0,"t":74.7,"a":6},{"p":2,"s":1,"k":0,"t":78.3,"a":-6},{"p":2,"s":1,"k":0,"t":82.3,"a":5},{"p":2,"s":1,"k":0,"t":86.3,"a":-5},{"p":2,"s":1,"k":0,"t":89.9,"a":4},{"p":2,"s":1,"k":0,"t":93.6,"a":-4},{"p":2,"s":1,"k":0,"t":97.5,"a":3},{"p":2,"s":1,"k":0,"t":101,"a":-3},{"p":2,"s":1,"k":0,"t":105,"a":3},{"p":2,"s":1,"k":0,"t":109,"a":-3},{"p":2,"s":1,"k":0,"t":113,"a":2},{"p":2,"s":1,"k":0,"t":117,"a":-2.5},{"p":2,"s":1,"k":0,"t":121,"a":2},{"p":2,"s":1,"k":0,"t":125,"a":-2},{"p":2,"s":1,"k":0,"t":129,"a":2},{"p":2,"s":1,"k":0,"t":133,"a":-2},{"p":2,"s":1,"k":0,"t":137,"a":2},{"p":2,"s":1,"k":0,"t":141,"a":-1.5},{"p":2,"s":1,"k":0,"t":145,"a":1.5},{"p":2,"s":1,"k":0,"t":150,"a":-1},{"p":2,"s":1,"k":0,"t":155,"a":1.5},{"p":2,"s":1,"k":0,"t":160,"a":-1},{"p":2,"s":1,"k":0,"t":165,"a":1},{"p":2,"s":1,"k":0,"t":170,"a":-1},{"p":2,"s":1,"k":0,"t":175,"a":1.5},{"p":2,"s":1,"k":0,"t":180,"a":0},
{"p":2,"s":1,"k":1,"t":0,"a":0},{"p":2,"s":1,"k":1,"t":34,"a":0},{"p":2,"s":1,"k":1,"t":37.3,"a":-2},{"p":2,"s":1,"k":1,"t":41.9,"a":4},{"p":2,"s":1,"k":1,"t":46.5,"a":0},{"p":2,"s":1,"k":1,"t":51,"a":-3.7},{"p":2,"s":1,"k":1,"t":56.5,"a":8},{"p":2,"s":1,"k":1,"t":61.6,"a":-5.3},{"p":2,"s":1,"k":1,"t":66.2,"a":5},{"p":2,"s":1,"k":1,"t":69.9,"a":-4},{"p":2,"s":1,"k":1,"t":73.8,"a":4},{"p":2,"s":1,"k":1,"t":77.7,"a":-3},{"p":2,"s":1,"k":1,"t":81.4,"a":3},{"p":2,"s":1,"k":1,"t":85,"a":-2.5},{"p":2,"s":1,"k":1,"t":89,"a":2},{"p":2,"s":1,"k":1,"t":93,"a":-2},{"p":2,"s":1,"k":1,"t":97,"a":2},{"p":2,"s":1,"k":1,"t":101,"a":-1.5},{"p":2,"s":1,"k":1,"t":105,"a":1.5},{"p":2,"s":1,"k":1,"t":110,"a":-1},{"p":2,"s":1,"k":1,"t":115,"a":1},{"p":2,"s":1,"k":1,"t":120,"a":-1},{"p":2,"s":1,"k":1,"t":125,"a":0.5},{"p":2,"s":1,"k":1,"t":130,"a":0},{"p":2,"s":1,"k":1,"t":180,"a":0},
{"p":2,"s":2,"k":0,"t":0,"a":0},{"p":2,"s":2,"k":0,"t":15,"a":0},{"p":2,"s":2,"k":0,"t":25,"a":-1},{"p":2,"s":2,"k":0,"t":34.3,"a":0},{"p":2,"s":2,"k":0,"t":37,"a":-1},{"p":2,"s":2,"k":0,"t":40.4,"a":4},{"p":2,"s":2,"k":0,"t":43,"a":0},{"p":2,"s":2,"k":0,"t":48,"a":-7},{"p":2,"s":2,"k":0,"t":54,"a":9},{"p":2,"s":2,"k":0,"t":59.5,"a":-5},{"p":2,"s":2,"k":0,"t":65.5,"a":5},{"p":2,"s":2,"k":0,"t":69.4,"a":-5},{"p":2,"s":2,"k":0,"t":73.4,"a":5},{"p":2,"s":2,"k":0,"t":77.4,"a":-5},{"p":2,"s":2,"k":0,"t":81,"a":4},{"p":2,"s":2,"k":0,"t":84.8,"a":-4},{"p":2,"s":2,"k":0,"t":88.8,"a":4},{"p":2,"s":2,"k":0,"t":92.4,"a":-3},{"p":2,"s":2,"k":0,"t":96.5,"a":3},{"p":2,"s":2,"k":0,"t":100,"a":-3},{"p":2,"s":2,"k":0,"t":104,"a":2.5},{"p":2,"s":2,"k":0,"t":108,"a":-2},{"p":2,"s":2,"k":0,"t":112,"a":2},{"p":2,"s":2,"k":0,"t":116,"a":-2},{"p":2,"s":2,"k":0,"t":120,"a":1.5},{"p":2,"s":2,"k":0,"t":125,"a":-1},{"p":2,"s":2,"k":0,"t":130,"a":1},{"p":2,"s":2,"k":0,"t":135,"a":-1},{"p":2,"s":2,"k":0,"t":140,"a":1},{"p":2,"s":2,"k":0,"t":145,"a":-1},{"p":2,"s":2,"k":0,"t":150,"a":1},{"p":2,"s":2,"k":0,"t":155,"a":-1},{"p":2,"s":2,"k":0,"t":160,"a":1},{"p":2,"s":2,"k":0,"t":165,"a":-1},{"p":2,"s":2,"k":0,"t":170,"a":1},{"p":2,"s":2,"k":0,"t":175,"a":-1},{"p":2,"s":2,"k":0,"t":180,"a":0},
{"p":2,"s":2,"k":1,"t":0,"a":0},{"p":2,"s":2,"k":1,"t":34,"a":0},{"p":2,"s":2,"k":1,"t":37,"a":-1.5},{"p":2,"s":2,"k":1,"t":40.4,"a":4},{"p":2,"s":2,"k":1,"t":43.5,"a":0},{"p":2,"s":2,"k":1,"t":48,"a":-7.3},{"p":2,"s":2,"k":1,"t":54,"a":9.3},{"p":2,"s":2,"k":1,"t":59.5,"a":-5},{"p":2,"s":2,"k":1,"t":64.7,"a":5},{"p":2,"s":2,"k":1,"t":68.6,"a":-4},{"p":2,"s":2,"k":1,"t":72.9,"a":4},{"p":2,"s":2,"k":1,"t":76.8,"a":-3},{"p":2,"s":2,"k":1,"t":80.7,"a":3},{"p":2,"s":2,"k":1,"t":84.4,"a":-2},{"p":2,"s":2,"k":1,"t":88.3,"a":2},{"p":2,"s":2,"k":1,"t":92,"a":-1.5},{"p":2,"s":2,"k":1,"t":96,"a":1.5},{"p":2,"s":2,"k":1,"t":100,"a":-1},{"p":2,"s":2,"k":1,"t":105,"a":1},{"p":2,"s":2,"k":1,"t":110,"a":-0.5},{"p":2,"s":2,"k":1,"t":115,"a":0},{"p":2,"s":2,"k":1,"t":180,"a":0},
{"p":2,"s":3,"k":0,"t":0,"a":0},{"p":2,"s":3,"k":0,"t":10,"a":-1},{"p":2,"s":3,"k":0,"t":20,"a":0},{"p":2,"s":3,"k":0,"t":32.8,"a":0},{"p":2,"s":3,"k":0,"t":35.2,"a":-4},{"p":2,"s":3,"k":0,"t":39.5,"a":7},{"p":2,"s":3,"k":0,"t":41.9,"a":5},{"p":2,"s":3,"k":0,"t":46.5,"a":-13},{"p":2,"s":3,"k":0,"t":52.5,"a":15},{"p":2,"s":3,"k":0,"t":58.6,"a":-6},{"p":2,"s":3,"k":0,"t":62.5,"a":9},{"p":2,"s":3,"k":0,"t":66.2,"a":-9},{"p":2,"s":3,"k":0,"t":69.8,"a":9},{"p":2,"s":3,"k":0,"t":73.7,"a":-9},{"p":2,"s":3,"k":0,"t":77.4,"a":8},{"p":2,"s":3,"k":0,"t":81.3,"a":-8},{"p":2,"s":3,"k":0,"t":84.9,"a":7},{"p":2,"s":3,"k":0,"t":88.9,"a":-6},{"p":2,"s":3,"k":0,"t":92.8,"a":5},{"p":2,"s":3,"k":0,"t":96.4,"a":-4},{"p":2,"s":3,"k":0,"t":101,"a":3},{"p":2,"s":3,"k":0,"t":105.4,"a":-3},{"p":2,"s":3,"k":0,"t":110,"a":2},{"p":2,"s":3,"k":0,"t":114,"a":-2},{"p":2,"s":3,"k":0,"t":118,"a":1.5},{"p":2,"s":3,"k":0,"t":123,"a":-1.5},{"p":2,"s":3,"k":0,"t":128,"a":1.5},{"p":2,"s":3,"k":0,"t":133,"a":-1},{"p":2,"s":3,"k":0,"t":138,"a":1},{"p":2,"s":3,"k":0,"t":143,"a":-1},{"p":2,"s":3,"k":0,"t":148,"a":1},{"p":2,"s":3,"k":0,"t":153,"a":-1},{"p":2,"s":3,"k":0,"t":158,"a":1},{"p":2,"s":3,"k":0,"t":163,"a":-1},{"p":2,"s":3,"k":0,"t":168,"a":1.5},{"p":2,"s":3,"k":0,"t":173,"a":-1},{"p":2,"s":3,"k":0,"t":178,"a":1},{"p":2,"s":3,"k":0,"t":180,"a":0},
{"p":2,"s":3,"k":1,"t":0,"a":0},{"p":2,"s":3,"k":1,"t":32,"a":0},{"p":2,"s":3,"k":1,"t":35.2,"a":-4.7},{"p":2,"s":3,"k":1,"t":39.5,"a":8},{"p":2,"s":3,"k":1,"t":41.9,"a":5},{"p":2,"s":3,"k":1,"t":46.5,"a":-13},{"p":2,"s":3,"k":1,"t":52.5,"a":16.3},{"p":2,"s":3,"k":1,"t":58.6,"a":-6.3},{"p":2,"s":3,"k":1,"t":62.5,"a":7},{"p":2,"s":3,"k":1,"t":66.2,"a":-6},{"p":2,"s":3,"k":1,"t":69.8,"a":6},{"p":2,"s":3,"k":1,"t":73.7,"a":-5},{"p":2,"s":3,"k":1,"t":77.4,"a":5},{"p":2,"s":3,"k":1,"t":81.3,"a":-4},{"p":2,"s":3,"k":1,"t":84.9,"a":4},{"p":2,"s":3,"k":1,"t":88.9,"a":-3},{"p":2,"s":3,"k":1,"t":92.8,"a":3},{"p":2,"s":3,"k":1,"t":97,"a":-2},{"p":2,"s":3,"k":1,"t":101,"a":2},{"p":2,"s":3,"k":1,"t":105,"a":-1.5},{"p":2,"s":3,"k":1,"t":110,"a":1},{"p":2,"s":3,"k":1,"t":115,"a":-1},{"p":2,"s":3,"k":1,"t":120,"a":1},{"p":2,"s":3,"k":1,"t":126,"a":-0.5},{"p":2,"s":3,"k":1,"t":133,"a":0},{"p":2,"s":3,"k":1,"t":180,"a":0},
{"p":2,"s":4,"k":0,"t":0,"a":0},{"p":2,"s":4,"k":0,"t":2,"a":2},{"p":2,"s":4,"k":0,"t":5,"a":3},{"p":2,"s":4,"k":0,"t":9.5,"a":-6},{"p":2,"s":4,"k":0,"t":14,"a":1},{"p":2,"s":4,"k":0,"t":19,"a":2.5},{"p":2,"s":4,"k":0,"t":23,"a":0},{"p":2,"s":4,"k":0,"t":27,"a":-1},{"p":2,"s":4,"k":0,"t":30.6,"a":-1},{"p":2,"s":4,"k":0,"t":32.2,"a":-6},{"p":2,"s":4,"k":0,"t":36.4,"a":11},{"p":2,"s":4,"k":0,"t":41,"a":-9},{"p":2,"s":4,"k":0,"t":45,"a":-17},{"p":2,"s":4,"k":0,"t":49.5,"a":16},{"p":2,"s":4,"k":0,"t":53.4,"a":-10},{"p":2,"s":4,"k":0,"t":56.5,"a":9},{"p":2,"s":4,"k":0,"t":60,"a":-8},{"p":2,"s":4,"k":0,"t":63.7,"a":8},{"p":2,"s":4,"k":0,"t":67,"a":-8},{"p":2,"s":4,"k":0,"t":70.6,"a":7},{"p":2,"s":4,"k":0,"t":74.2,"a":-7},{"p":2,"s":4,"k":0,"t":77.6,"a":7},{"p":2,"s":4,"k":0,"t":81.2,"a":-7},{"p":2,"s":4,"k":0,"t":84.8,"a":6},{"p":2,"s":4,"k":0,"t":88.2,"a":-6},{"p":2,"s":4,"k":0,"t":91.8,"a":6},{"p":2,"s":4,"k":0,"t":95.4,"a":-6},{"p":2,"s":4,"k":0,"t":99,"a":6},{"p":2,"s":4,"k":0,"t":102.6,"a":-5},{"p":2,"s":4,"k":0,"t":106.2,"a":5},{"p":2,"s":4,"k":0,"t":109.8,"a":-5},{"p":2,"s":4,"k":0,"t":113.4,"a":5},{"p":2,"s":4,"k":0,"t":117,"a":-5},{"p":2,"s":4,"k":0,"t":120.6,"a":5},{"p":2,"s":4,"k":0,"t":124.2,"a":-5},{"p":2,"s":4,"k":0,"t":127.8,"a":5},{"p":2,"s":4,"k":0,"t":131.4,"a":-4},{"p":2,"s":4,"k":0,"t":135,"a":5},{"p":2,"s":4,"k":0,"t":138.6,"a":-4},{"p":2,"s":4,"k":0,"t":142.2,"a":5},{"p":2,"s":4,"k":0,"t":145.8,"a":-5},{"p":2,"s":4,"k":0,"t":149.4,"a":5},{"p":2,"s":4,"k":0,"t":153,"a":-5},{"p":2,"s":4,"k":0,"t":156.6,"a":7},{"p":2,"s":4,"k":0,"t":160.2,"a":-5},{"p":2,"s":4,"k":0,"t":163.8,"a":6},{"p":2,"s":4,"k":0,"t":167.4,"a":-6},{"p":2,"s":4,"k":0,"t":171,"a":6},{"p":2,"s":4,"k":0,"t":174.6,"a":-5},{"p":2,"s":4,"k":0,"t":178.2,"a":7},{"p":2,"s":4,"k":0,"t":180,"a":4},
{"p":2,"s":4,"k":1,"t":0,"a":0},{"p":2,"s":4,"k":1,"t":29,"a":0},{"p":2,"s":4,"k":1,"t":32.2,"a":-5},{"p":2,"s":4,"k":1,"t":36.4,"a":12},{"p":2,"s":4,"k":1,"t":41,"a":-10},{"p":2,"s":4,"k":1,"t":45,"a":-17.5},{"p":2,"s":4,"k":1,"t":49.5,"a":17},{"p":2,"s":4,"k":1,"t":53.4,"a":-11},{"p":2,"s":4,"k":1,"t":56.5,"a":8},{"p":2,"s":4,"k":1,"t":60,"a":-8},{"p":2,"s":4,"k":1,"t":63.7,"a":7},{"p":2,"s":4,"k":1,"t":67,"a":-7},{"p":2,"s":4,"k":1,"t":70.6,"a":6},{"p":2,"s":4,"k":1,"t":74.2,"a":-6},{"p":2,"s":4,"k":1,"t":77.6,"a":5},{"p":2,"s":4,"k":1,"t":81.2,"a":-5},{"p":2,"s":4,"k":1,"t":84.8,"a":5},{"p":2,"s":4,"k":1,"t":88.2,"a":-4},{"p":2,"s":4,"k":1,"t":91.8,"a":4},{"p":2,"s":4,"k":1,"t":95.4,"a":-4},{"p":2,"s":4,"k":1,"t":99,"a":4},{"p":2,"s":4,"k":1,"t":102.6,"a":-3.5},{"p":2,"s":4,"k":1,"t":106.2,"a":3.5},{"p":2,"s":4,"k":1,"t":109.8,"a":-3.5},{"p":2,"s":4,"k":1,"t":113.4,"a":3.5},{"p":2,"s":4,"k":1,"t":117,"a":-3},{"p":2,"s":4,"k":1,"t":120.6,"a":3},{"p":2,"s":4,"k":1,"t":124.2,"a":-3},{"p":2,"s":4,"k":1,"t":127.8,"a":3},{"p":2,"s":4,"k":1,"t":131.4,"a":-3},{"p":2,"s":4,"k":1,"t":135,"a":3},{"p":2,"s":4,"k":1,"t":138.6,"a":-3},{"p":2,"s":4,"k":1,"t":142.2,"a":3},{"p":2,"s":4,"k":1,"t":145.8,"a":-3},{"p":2,"s":4,"k":1,"t":149.4,"a":3},{"p":2,"s":4,"k":1,"t":153,"a":-3},{"p":2,"s":4,"k":1,"t":156.6,"a":3},{"p":2,"s":4,"k":1,"t":160.2,"a":-3},{"p":2,"s":4,"k":1,"t":163.8,"a":3},{"p":2,"s":4,"k":1,"t":167.4,"a":-3},{"p":2,"s":4,"k":1,"t":171,"a":3},{"p":2,"s":4,"k":1,"t":174.6,"a":-3},{"p":2,"s":4,"k":1,"t":178.2,"a":3},{"p":2,"s":4,"k":1,"t":180,"a":1},
{"p":2,"s":5,"k":0,"t":0,"a":0},{"p":2,"s":5,"k":0,"t":5,"a":-1},{"p":2,"s":5,"k":0,"t":12,"a":1},{"p":2,"s":5,"k":0,"t":18,"a":-1},{"p":2,"s":5,"k":0,"t":25,"a":0},{"p":2,"s":5,"k":0,"t":29.8,"a":0},{"p":2,"s":5,"k":0,"t":32.2,"a":2},{"p":2,"s":5,"k":0,"t":34.3,"a":0},{"p":2,"s":5,"k":0,"t":38.3,"a":-15},{"p":2,"s":5,"k":0,"t":44,"a":28},{"p":2,"s":5,"k":0,"t":49.5,"a":-17},{"p":2,"s":5,"k":0,"t":53.4,"a":12},{"p":2,"s":5,"k":0,"t":57.5,"a":-10},{"p":2,"s":5,"k":0,"t":60.7,"a":12},{"p":2,"s":5,"k":0,"t":64.4,"a":-12},{"p":2,"s":5,"k":0,"t":68,"a":12},{"p":2,"s":5,"k":0,"t":71.9,"a":-12},{"p":2,"s":5,"k":0,"t":75.6,"a":11},{"p":2,"s":5,"k":0,"t":79.2,"a":-11},{"p":2,"s":5,"k":0,"t":83.1,"a":10},{"p":2,"s":5,"k":0,"t":86.8,"a":-10},{"p":2,"s":5,"k":0,"t":90.4,"a":9},{"p":2,"s":5,"k":0,"t":94.4,"a":-8},{"p":2,"s":5,"k":0,"t":98,"a":7},{"p":2,"s":5,"k":0,"t":102,"a":-6},{"p":2,"s":5,"k":0,"t":105.6,"a":5},{"p":2,"s":5,"k":0,"t":109.6,"a":-4},{"p":2,"s":5,"k":0,"t":113.2,"a":3},{"p":2,"s":5,"k":0,"t":117.2,"a":-2},{"p":2,"s":5,"k":0,"t":120.8,"a":2},{"p":2,"s":5,"k":0,"t":125,"a":-1.5},{"p":2,"s":5,"k":0,"t":130,"a":1.5},{"p":2,"s":5,"k":0,"t":135,"a":-1},{"p":2,"s":5,"k":0,"t":140,"a":1},{"p":2,"s":5,"k":0,"t":146,"a":-1},{"p":2,"s":5,"k":0,"t":152,"a":1},{"p":2,"s":5,"k":0,"t":158,"a":-1},{"p":2,"s":5,"k":0,"t":164,"a":1},{"p":2,"s":5,"k":0,"t":170,"a":-1},{"p":2,"s":5,"k":0,"t":175,"a":1.5},{"p":2,"s":5,"k":0,"t":180,"a":0},
{"p":2,"s":5,"k":1,"t":0,"a":0},{"p":2,"s":5,"k":1,"t":29,"a":0},{"p":2,"s":5,"k":1,"t":32.2,"a":2},{"p":2,"s":5,"k":1,"t":34.3,"a":0},{"p":2,"s":5,"k":1,"t":38.3,"a":-16},{"p":2,"s":5,"k":1,"t":44,"a":28},{"p":2,"s":5,"k":1,"t":49.5,"a":-17.7},{"p":2,"s":5,"k":1,"t":53.4,"a":8.3},{"p":2,"s":5,"k":1,"t":57,"a":-6.7},{"p":2,"s":5,"k":1,"t":60.7,"a":8},{"p":2,"s":5,"k":1,"t":64,"a":-7},{"p":2,"s":5,"k":1,"t":67.7,"a":7},{"p":2,"s":5,"k":1,"t":71.3,"a":-7},{"p":2,"s":5,"k":1,"t":75.3,"a":6},{"p":2,"s":5,"k":1,"t":78.9,"a":-6},{"p":2,"s":5,"k":1,"t":82.8,"a":5},{"p":2,"s":5,"k":1,"t":86.5,"a":-5},{"p":2,"s":5,"k":1,"t":90.4,"a":4},{"p":2,"s":5,"k":1,"t":94,"a":-4},{"p":2,"s":5,"k":1,"t":98,"a":3},{"p":2,"s":5,"k":1,"t":101.9,"a":-3},{"p":2,"s":5,"k":1,"t":105.6,"a":2},{"p":2,"s":5,"k":1,"t":110,"a":-2},{"p":2,"s":5,"k":1,"t":114.5,"a":1},{"p":2,"s":5,"k":1,"t":120,"a":0},{"p":2,"s":5,"k":1,"t":180,"a":0},
{"p":2,"s":6,"k":0,"t":0,"a":0},{"p":2,"s":6,"k":0,"t":8,"a":-1},{"p":2,"s":6,"k":0,"t":15,"a":0},{"p":2,"s":6,"k":0,"t":23.7,"a":0},{"p":2,"s":6,"k":0,"t":26.7,"a":2},{"p":2,"s":6,"k":0,"t":29,"a":-1},{"p":2,"s":6,"k":0,"t":33.4,"a":10},{"p":2,"s":6,"k":0,"t":40.4,"a":-16},{"p":2,"s":6,"k":0,"t":45,"a":15},{"p":2,"s":6,"k":0,"t":49.5,"a":-12},{"p":2,"s":6,"k":0,"t":53.4,"a":13},{"p":2,"s":6,"k":0,"t":57,"a":-12},{"p":2,"s":6,"k":0,"t":60.7,"a":12},{"p":2,"s":6,"k":0,"t":64.4,"a":-11},{"p":2,"s":6,"k":0,"t":68,"a":10},{"p":2,"s":6,"k":0,"t":71.6,"a":-9},{"p":2,"s":6,"k":0,"t":75.3,"a":8},{"p":2,"s":6,"k":0,"t":78.9,"a":-6},{"p":2,"s":6,"k":0,"t":82.5,"a":5},{"p":2,"s":6,"k":0,"t":86.2,"a":-4},{"p":2,"s":6,"k":0,"t":90.4,"a":3},{"p":2,"s":6,"k":0,"t":94,"a":-2},{"p":2,"s":6,"k":0,"t":98,"a":2},{"p":2,"s":6,"k":0,"t":102,"a":-1.5},{"p":2,"s":6,"k":0,"t":106,"a":1},{"p":2,"s":6,"k":0,"t":111,"a":-1},{"p":2,"s":6,"k":0,"t":117,"a":1},{"p":2,"s":6,"k":0,"t":123,"a":-1},{"p":2,"s":6,"k":0,"t":129,"a":1},{"p":2,"s":6,"k":0,"t":135,"a":-1},{"p":2,"s":6,"k":0,"t":141,"a":1},{"p":2,"s":6,"k":0,"t":147,"a":-1},{"p":2,"s":6,"k":0,"t":153,"a":1},{"p":2,"s":6,"k":0,"t":159,"a":-1},{"p":2,"s":6,"k":0,"t":165,"a":1},{"p":2,"s":6,"k":0,"t":171,"a":-1},{"p":2,"s":6,"k":0,"t":177,"a":1},{"p":2,"s":6,"k":0,"t":180,"a":0},
{"p":2,"s":6,"k":1,"t":0,"a":0},{"p":2,"s":6,"k":1,"t":23,"a":0},{"p":2,"s":6,"k":1,"t":26.7,"a":2},{"p":2,"s":6,"k":1,"t":29.5,"a":-1},{"p":2,"s":6,"k":1,"t":34.3,"a":11},{"p":2,"s":6,"k":1,"t":40.4,"a":-17},{"p":2,"s":6,"k":1,"t":45.5,"a":14.3},{"p":2,"s":6,"k":1,"t":50.4,"a":-10.7},{"p":2,"s":6,"k":1,"t":53.4,"a":9},{"p":2,"s":6,"k":1,"t":57,"a":-8},{"p":2,"s":6,"k":1,"t":60.7,"a":7},{"p":2,"s":6,"k":1,"t":64,"a":-6},{"p":2,"s":6,"k":1,"t":67.7,"a":6},{"p":2,"s":6,"k":1,"t":71.3,"a":-5},{"p":2,"s":6,"k":1,"t":74.7,"a":5},{"p":2,"s":6,"k":1,"t":78.3,"a":-4},{"p":2,"s":6,"k":1,"t":82,"a":3},{"p":2,"s":6,"k":1,"t":86,"a":-3},{"p":2,"s":6,"k":1,"t":89.6,"a":2},{"p":2,"s":6,"k":1,"t":94,"a":-1.5},{"p":2,"s":6,"k":1,"t":99,"a":1},{"p":2,"s":6,"k":1,"t":104,"a":-0.5},{"p":2,"s":6,"k":1,"t":109,"a":0},{"p":2,"s":6,"k":1,"t":180,"a":0},
{"p":2,"s":7,"k":0,"t":0,"a":0},{"p":2,"s":7,"k":0,"t":10,"a":0},{"p":2,"s":7,"k":0,"t":20,"a":-1},{"p":2,"s":7,"k":0,"t":25.2,"a":0},{"p":2,"s":7,"k":0,"t":28.2,"a":-3},{"p":2,"s":7,"k":0,"t":33.4,"a":10},{"p":2,"s":7,"k":0,"t":40.4,"a":-23},{"p":2,"s":7,"k":0,"t":45,"a":18},{"p":2,"s":7,"k":0,"t":50,"a":-14},{"p":2,"s":7,"k":0,"t":53.4,"a":13},{"p":2,"s":7,"k":0,"t":57,"a":-14},{"p":2,"s":7,"k":0,"t":60.7,"a":10},{"p":2,"s":7,"k":0,"t":64,"a":-12},{"p":2,"s":7,"k":0,"t":67.7,"a":8},{"p":2,"s":7,"k":0,"t":71.3,"a":-8},{"p":2,"s":7,"k":0,"t":75.3,"a":5},{"p":2,"s":7,"k":0,"t":78.3,"a":-5},{"p":2,"s":7,"k":0,"t":82,"a":3},{"p":2,"s":7,"k":0,"t":86,"a":-2},{"p":2,"s":7,"k":0,"t":90,"a":2},{"p":2,"s":7,"k":0,"t":95,"a":-1.5},{"p":2,"s":7,"k":0,"t":100,"a":1},{"p":2,"s":7,"k":0,"t":106,"a":-1},{"p":2,"s":7,"k":0,"t":112,"a":1},{"p":2,"s":7,"k":0,"t":118,"a":-1},{"p":2,"s":7,"k":0,"t":125,"a":1},{"p":2,"s":7,"k":0,"t":132,"a":-1},{"p":2,"s":7,"k":0,"t":139,"a":1},{"p":2,"s":7,"k":0,"t":146,"a":-1},{"p":2,"s":7,"k":0,"t":153,"a":1},{"p":2,"s":7,"k":0,"t":160,"a":-1},{"p":2,"s":7,"k":0,"t":167,"a":1},{"p":2,"s":7,"k":0,"t":174,"a":-1},{"p":2,"s":7,"k":0,"t":180,"a":0},
{"p":2,"s":7,"k":1,"t":0,"a":0},{"p":2,"s":7,"k":1,"t":24,"a":0},{"p":2,"s":7,"k":1,"t":28.2,"a":-4},{"p":2,"s":7,"k":1,"t":34.3,"a":12.3},{"p":2,"s":7,"k":1,"t":40.4,"a":-25.7},{"p":2,"s":7,"k":1,"t":45,"a":14.3},{"p":2,"s":7,"k":1,"t":51,"a":-10},{"p":2,"s":7,"k":1,"t":54,"a":10},{"p":2,"s":7,"k":1,"t":57.7,"a":-8},{"p":2,"s":7,"k":1,"t":61,"a":6},{"p":2,"s":7,"k":1,"t":64.7,"a":-5},{"p":2,"s":7,"k":1,"t":68.3,"a":4},{"p":2,"s":7,"k":1,"t":72,"a":-3},{"p":2,"s":7,"k":1,"t":75.6,"a":3},{"p":2,"s":7,"k":1,"t":79,"a":-2.5},{"p":2,"s":7,"k":1,"t":82.5,"a":2.5},{"p":2,"s":7,"k":1,"t":86.5,"a":-2},{"p":2,"s":7,"k":1,"t":90.5,"a":2},{"p":2,"s":7,"k":1,"t":95,"a":-1},{"p":2,"s":7,"k":1,"t":100,"a":1},{"p":2,"s":7,"k":1,"t":106,"a":0},{"p":2,"s":7,"k":1,"t":180,"a":0},
{"p":2,"s":8,"k":0,"t":0,"a":0},{"p":2,"s":8,"k":0,"t":6,"a":-1},{"p":2,"s":8,"k":0,"t":10,"a":0},{"p":2,"s":8,"k":0,"t":13,"a":-3},{"p":2,"s":8,"k":0,"t":16.7,"a":12},{"p":2,"s":8,"k":0,"t":22,"a":-30},{"p":2,"s":8,"k":0,"t":25,"a":29},{"p":2,"s":8,"k":0,"t":27.3,"a":-14},{"p":2,"s":8,"k":0,"t":29,"a":17},{"p":2,"s":8,"k":0,"t":31.3,"a":-8},{"p":2,"s":8,"k":0,"t":33.4,"a":5},{"p":2,"s":8,"k":0,"t":35.8,"a":-5},{"p":2,"s":8,"k":0,"t":38.9,"a":2},{"p":2,"s":8,"k":0,"t":42,"a":-1},{"p":2,"s":8,"k":0,"t":47,"a":1},{"p":2,"s":8,"k":0,"t":53,"a":-1},{"p":2,"s":8,"k":0,"t":60,"a":1},{"p":2,"s":8,"k":0,"t":67,"a":-1},{"p":2,"s":8,"k":0,"t":74,"a":1},{"p":2,"s":8,"k":0,"t":81,"a":-1},{"p":2,"s":8,"k":0,"t":88,"a":1},{"p":2,"s":8,"k":0,"t":95,"a":-1},{"p":2,"s":8,"k":0,"t":102,"a":1},{"p":2,"s":8,"k":0,"t":109,"a":-1},{"p":2,"s":8,"k":0,"t":116,"a":1},{"p":2,"s":8,"k":0,"t":123,"a":-1},{"p":2,"s":8,"k":0,"t":130,"a":1},{"p":2,"s":8,"k":0,"t":137,"a":-1},{"p":2,"s":8,"k":0,"t":144,"a":1},{"p":2,"s":8,"k":0,"t":151,"a":-1},{"p":2,"s":8,"k":0,"t":158,"a":1},{"p":2,"s":8,"k":0,"t":165,"a":-1},{"p":2,"s":8,"k":0,"t":172,"a":1},{"p":2,"s":8,"k":0,"t":180,"a":0},
{"p":2,"s":8,"k":1,"t":0,"a":0},{"p":2,"s":8,"k":1,"t":10,"a":0},{"p":2,"s":8,"k":1,"t":13,"a":-4},{"p":2,"s":8,"k":1,"t":16.7,"a":15},{"p":2,"s":8,"k":1,"t":22,"a":-33},{"p":2,"s":8,"k":1,"t":25.2,"a":11},{"p":2,"s":8,"k":1,"t":27.6,"a":-8},{"p":2,"s":8,"k":1,"t":29.8,"a":4},{"p":2,"s":8,"k":1,"t":32,"a":-6},{"p":2,"s":8,"k":1,"t":35,"a":3},{"p":2,"s":8,"k":1,"t":38.3,"a":-4},{"p":2,"s":8,"k":1,"t":41.5,"a":1},{"p":2,"s":8,"k":1,"t":44,"a":0},{"p":2,"s":8,"k":1,"t":180,"a":0}
]},
"hconcat":[
{"vconcat":[
{"width":340,"height":100,"data":{"name":"txt"},
"mark":{"type":"text","align":"left","baseline":"alphabetic","fontSize":21,"font":"Liberation Sans","color":"#000000"},
"encoding":{"x":{"field":"c","type":"quantitative","scale":{"domain":[0.13,1.948],"nice":false,"zero":false},"axis":null},
"y":{"field":"l","type":"quantitative","scale":{"domain":[0.038,4.275],"reverse":true,"nice":false,"zero":false},"axis":null},
"text":{"field":"x"}}},
{"width":292,"height":259,"data":{"name":"fit"},"view":{"stroke":"#262626","strokeWidth":0.8},
"layer":[
{"mark":{"type":"circle","size":60,"stroke":"#262626","strokeWidth":0.7,"opacity":1},
"encoding":{
"x":{"field":"d","type":"quantitative","scale":{"domain":[0,20],"nice":false},"axis":{"values":[0,5,10,15,20],"title":"Depth (km)","domain":false,"tickSize":-3,"tickColor":"#262626","labelColor":"#333333","labelFontSize":12,"labelPadding":6,"titleColor":"#333333","titleFontSize":13,"titleFontWeight":"normal","titlePadding":6}},
"y":{"field":"f","type":"quantitative","scale":{"domain":[0,1],"nice":false},"axis":{"values":[0,0.2,0.4,0.6,0.8,1],"labelExpr":"'' + datum.value","title":"Fit","domain":false,"tickSize":-3,"tickColor":"#262626","labelColor":"#333333","labelFontSize":12,"labelPadding":5.5,"titleColor":"#333333","titleFontSize":13,"titleFontWeight":"normal","titlePadding":5}},
"fill":{"field":"f","type":"quantitative","scale":{"domain":[0.188,0.624],"range":["#352a87","#0363e1","#1485d4","#06a7c6","#38b99e","#92bf73","#d9ba56","#fcce2e","#f9fb0e"]},"legend":null}}},
{"mark":{"type":"point","opacity":0},
"encoding":{
"x":{"field":"d","type":"quantitative","scale":{"domain":[0,20],"nice":false},"axis":{"orient":"top","values":[0,5,10,15,20],"labels":false,"title":null,"domain":false,"tickSize":-3,"tickColor":"#262626"}},
"y":{"field":"f","type":"quantitative","scale":{"domain":[0,1],"nice":false},"axis":{"orient":"right","values":[0,0.2,0.4,0.6,0.8,1],"labels":false,"title":null,"domain":false,"tickSize":-3,"tickColor":"#262626"}}}}
],
"resolve":{"axis":{"x":"independent","y":"independent"}}}
],"spacing":3.5},
{"data":{"name":"w"},
"bounds":"flush",
"facet":{
"row":{"field":"s","type":"ordinal","header":{"title":null,"labelExpr":"['TD027','WTMTA','TD013','TD011','STPRA','TD002','TD07A','TD09A','BRLDA'][datum.value]","labelAngle":0,"labelAlign":"right","labelOrient":"left","labelFontSize":12,"labelColor":"#262626","labelPadding":-27,"labelFont":"Liberation Sans"}},
"column":{"field":"p","type":"ordinal","header":{"title":null,"labelExpr":"['Vertical','Radial','Tangential'][datum.value]","labelFontSize":13,"labelFontWeight":"bold","labelColor":"#000000","labelPadding":11.7,"labelFont":"Liberation Sans"}}},
"spacing":{"row":0,"column":20},
"spec":{"width":197.6,"height":37.54,
"mark":{"type":"line","strokeWidth":1.4,"interpolate":"monotone"},
"encoding":{
"x":{"field":"t","type":"quantitative","scale":{"domain":[0,180],"nice":false},"axis":{"values":[0,25,50,75,100,125,150,175],"labelExpr":"datum.value % 50 === 0 ? datum.label : ''","title":"Time (sec)","offset":17.4,"tickSize":-3,"domainColor":"#262626","tickColor":"#262626","labelColor":"#333333","labelFontSize":12,"labelPadding":9,"titleColor":"#333333","titleFontSize":13,"titleFontWeight":"normal","titlePadding":4}},
"y":{"field":"a","type":"quantitative","scale":{"domain":[-18.77,18.77],"nice":false,"zero":false},"axis":null},
"color":{"field":"k","type":"nominal","scale":{"domain":[0,1],"range":["#ff0000","#000000"]},"legend":null}}}}
],
"spacing":16
}
